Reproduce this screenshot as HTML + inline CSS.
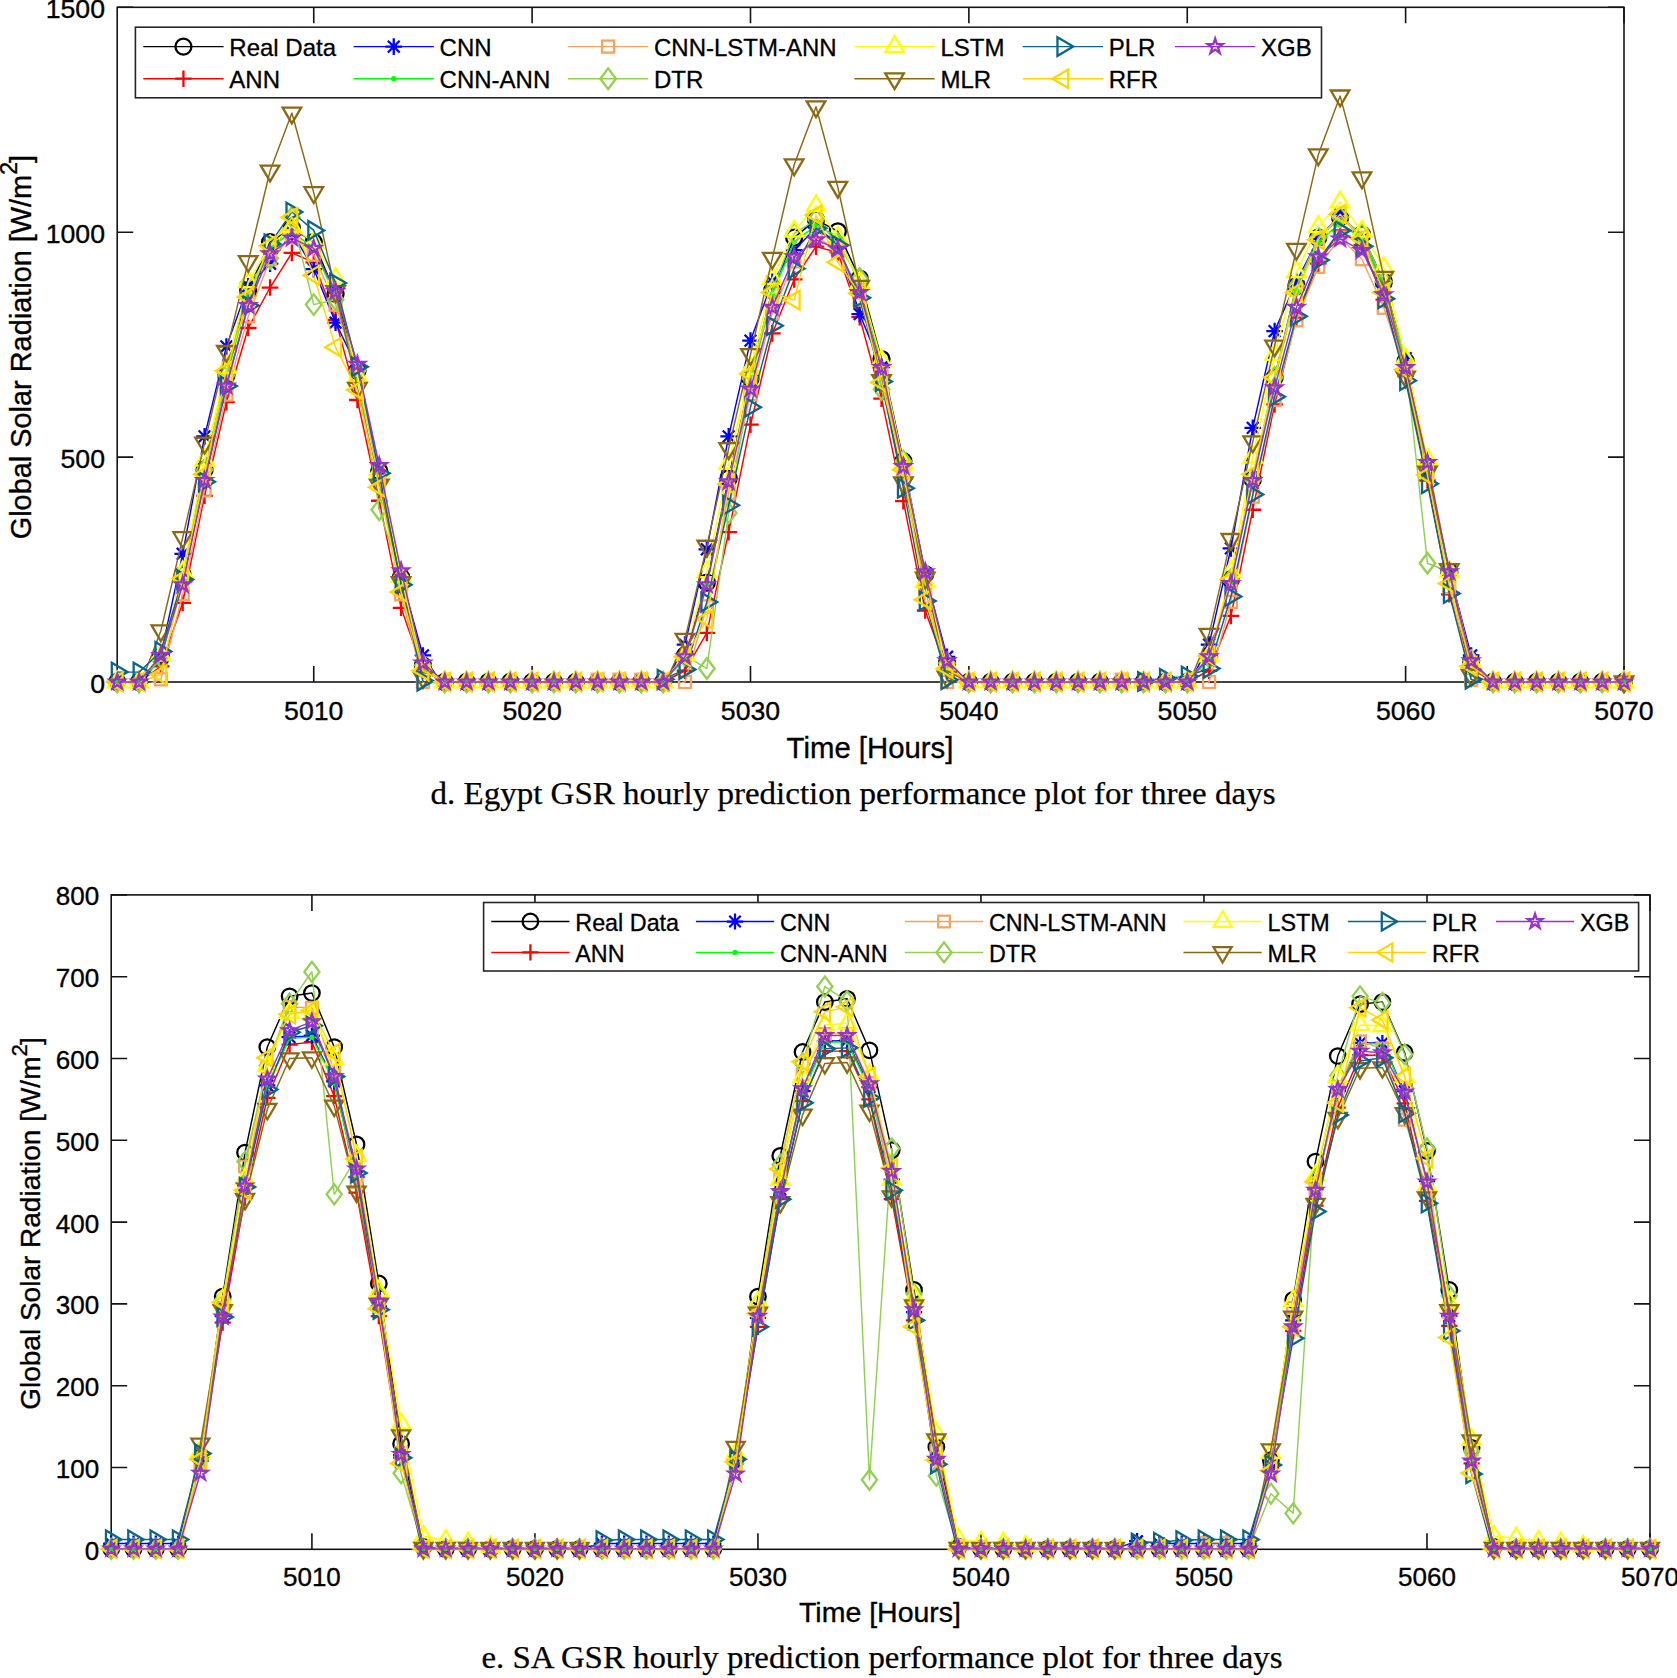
<!DOCTYPE html>
<html lang="en"><head><meta charset="utf-8"><title>GSR hourly prediction performance plots</title>
<style>html,body{margin:0;padding:0;background:#fff}body{width:1677px;height:1678px;overflow:hidden}svg{display:block}</style>
</head><body>
<svg width="1677" height="1678" viewBox="0 0 1677 1678">
<rect width="1677" height="1678" fill="#fff"/>
<defs>
<circle id="ao" r="8" fill="none" stroke-width="2.3"/>
<path id="aplus" d="M-8.3 0H8.3M0 -8.3V8.3" fill="none" stroke-width="2.3"/>
<path id="aast" d="M-8.3 0H8.3M0 -8.3V8.3M-5.9 -5.9L5.9 5.9M-5.9 5.9L5.9 -5.9" fill="none" stroke-width="2.3"/>
<circle id="adot" r="2.7" stroke="none"/>
<rect id="asq" x="-6" y="-6" width="12" height="12" fill="none" stroke-width="2.3"/>
<path id="adia" d="M0 -10.3L7.8 0L0 10.3L-7.8 0Z" fill="none" stroke-width="2.3"/>
<path id="aup" d="M0 -10.4L9.3 5.4L-9.3 5.4Z" fill="none" stroke-width="2.3"/>
<path id="adown" d="M0 10.4L9.3 -5.4L-9.3 -5.4Z" fill="none" stroke-width="2.3"/>
<path id="aright" d="M10.4 0L-5.4 9.3L-5.4 -9.3Z" fill="none" stroke-width="2.3"/>
<path id="aleft" d="M-10.4 0L5.4 9.3L5.4 -9.3Z" fill="none" stroke-width="2.3"/>
<path id="astar" d="M0 -7.9L1.79 -2.47L7.51 -2.44L2.9 0.94L4.64 6.39L0 3.05L-4.64 6.39L-2.9 0.94L-7.51 -2.44L-1.79 -2.47Z" fill="none" stroke-width="2.3"/>
<circle id="bo" r="7.78" fill="none" stroke-width="2.25"/>
<path id="bplus" d="M-8.08 0H8.08M0 -8.08V8.08" fill="none" stroke-width="2.25"/>
<path id="bast" d="M-8.08 0H8.08M0 -8.08V8.08M-5.74 -5.74L5.74 5.74M-5.74 5.74L5.74 -5.74" fill="none" stroke-width="2.25"/>
<circle id="bdot" r="2.63" stroke="none"/>
<rect id="bsq" x="-5.84" y="-5.84" width="11.68" height="11.68" fill="none" stroke-width="2.25"/>
<path id="bdia" d="M0 -10.02L7.59 0L0 10.02L-7.59 0Z" fill="none" stroke-width="2.25"/>
<path id="bup" d="M0 -10.12L9.05 5.25L-9.05 5.25Z" fill="none" stroke-width="2.25"/>
<path id="bdown" d="M0 10.12L9.05 -5.25L-9.05 -5.25Z" fill="none" stroke-width="2.25"/>
<path id="bright" d="M10.12 0L-5.25 9.05L-5.25 -9.05Z" fill="none" stroke-width="2.25"/>
<path id="bleft" d="M-10.12 0L5.25 9.05L5.25 -9.05Z" fill="none" stroke-width="2.25"/>
<path id="bstar" d="M0 -7.69L1.74 -2.4L7.31 -2.38L2.82 0.92L4.52 6.22L0 2.97L-4.52 6.22L-2.82 0.92L-7.31 -2.38L-1.74 -2.4Z" fill="none" stroke-width="2.25"/>
</defs>
<g stroke="#141414" stroke-width="1.6" fill="none">
<rect x="117.2" y="7.3" width="1506.8" height="674.7"/>
<path d="M313.74 682v-16M313.74 7.3v16M532.12 682v-16M532.12 7.3v16M750.49 682v-16M750.49 7.3v16M968.87 682v-16M968.87 7.3v16M1187.25 682v-16M1187.25 7.3v16M1405.62 682v-16M1405.62 7.3v16M1624 682v-16M1624 7.3v16M117.2 682h16M1624 682h-16M117.2 457.1h16M1624 457.1h-16M117.2 232.2h16M1624 232.2h-16M117.2 7.3h16M1624 7.3h-16"/>
</g>
<g font-family='"Liberation Sans", Arial, Helvetica, sans-serif' font-size="26.67" fill="#000" stroke="#000" stroke-width="0.35">
<g text-anchor="middle">
<text x="313.74" y="720.1">5010</text>
<text x="532.12" y="720.1">5020</text>
<text x="750.49" y="720.1">5030</text>
<text x="968.87" y="720.1">5040</text>
<text x="1187.25" y="720.1">5050</text>
<text x="1405.62" y="720.1">5060</text>
<text x="1624" y="720.1">5070</text>
</g>
<g text-anchor="end">
<text x="105" y="692.7">0</text>
<text x="105" y="467.8">500</text>
<text x="105" y="242.9">1000</text>
<text x="105" y="18">1500</text>
</g>
</g>
<text x="870" y="758.2" text-anchor="middle" font-family='"Liberation Sans", Arial, Helvetica, sans-serif' font-size="29.33" fill="#000" stroke="#000" stroke-width="0.35">Time [Hours]</text>
<text transform="translate(30.7 539.3) rotate(-90)" text-anchor="start" font-family='"Liberation Sans", Arial, Helvetica, sans-serif' font-size="28.9" fill="#000" stroke="#000" stroke-width="0.35">Global Solar Radiation [W/m<tspan font-size="23.12" dy="-14">2</tspan><tspan dy="14" dx="-1">]</tspan></text>
<clipPath id="aclip"><rect x="116.2" y="6.3" width="1508.8" height="676.7"/></clipPath>
<g stroke="#000000" fill="#000000">
<polyline clip-path="url(#aclip)" fill="none" stroke-width="1.45" stroke-linejoin="round" points="117.2,682 139.04,682 160.88,657.26 182.71,574.95 204.55,469.69 226.39,375.24 248.23,290.22 270.06,242.1 291.9,228.15 313.74,242.1 335.58,293.82 357.41,370.74 379.25,471.04 401.09,577.2 422.93,665.36 444.77,682 466.6,682 488.44,682 510.28,682 532.12,682 553.95,682 575.79,682 597.63,682 619.47,682 641.3,682 663.14,682 684.98,655.46 706.82,582.59 728.66,478.24 750.49,378.38 772.33,290.22 794.17,237.6 816.01,219.61 837.84,231.3 859.68,278.53 881.52,359.04 903.36,461.15 925.19,574.05 947.03,663.11 968.87,682 990.71,682 1012.54,682 1034.38,682 1056.22,682 1078.06,682 1099.9,682 1121.73,682 1143.57,682 1165.41,682 1187.25,682 1209.08,656.81 1230.92,579.45 1252.76,479.59 1274.6,377.49 1296.43,286.18 1318.27,237.6 1340.11,217.36 1361.95,234.45 1383.79,281.68 1405.62,361.29 1427.46,466.55 1449.3,571.8 1471.14,660.86 1492.97,682 1514.81,682 1536.65,682 1558.49,682 1580.32,682 1602.16,682 1624,682"/>
<use href="#ao" x="117.2" y="682"/><use href="#ao" x="139.04" y="682"/><use href="#ao" x="160.88" y="657.26"/><use href="#ao" x="182.71" y="574.95"/><use href="#ao" x="204.55" y="469.69"/><use href="#ao" x="226.39" y="375.24"/><use href="#ao" x="248.23" y="290.22"/><use href="#ao" x="270.06" y="242.1"/><use href="#ao" x="291.9" y="228.15"/><use href="#ao" x="313.74" y="242.1"/><use href="#ao" x="335.58" y="293.82"/><use href="#ao" x="357.41" y="370.74"/><use href="#ao" x="379.25" y="471.04"/><use href="#ao" x="401.09" y="577.2"/><use href="#ao" x="422.93" y="665.36"/><use href="#ao" x="444.77" y="682"/><use href="#ao" x="466.6" y="682"/><use href="#ao" x="488.44" y="682"/><use href="#ao" x="510.28" y="682"/><use href="#ao" x="532.12" y="682"/><use href="#ao" x="553.95" y="682"/><use href="#ao" x="575.79" y="682"/><use href="#ao" x="597.63" y="682"/><use href="#ao" x="619.47" y="682"/><use href="#ao" x="641.3" y="682"/><use href="#ao" x="663.14" y="682"/><use href="#ao" x="684.98" y="655.46"/><use href="#ao" x="706.82" y="582.59"/><use href="#ao" x="728.66" y="478.24"/><use href="#ao" x="750.49" y="378.38"/><use href="#ao" x="772.33" y="290.22"/><use href="#ao" x="794.17" y="237.6"/><use href="#ao" x="816.01" y="219.61"/><use href="#ao" x="837.84" y="231.3"/><use href="#ao" x="859.68" y="278.53"/><use href="#ao" x="881.52" y="359.04"/><use href="#ao" x="903.36" y="461.15"/><use href="#ao" x="925.19" y="574.05"/><use href="#ao" x="947.03" y="663.11"/><use href="#ao" x="968.87" y="682"/><use href="#ao" x="990.71" y="682"/><use href="#ao" x="1012.54" y="682"/><use href="#ao" x="1034.38" y="682"/><use href="#ao" x="1056.22" y="682"/><use href="#ao" x="1078.06" y="682"/><use href="#ao" x="1099.9" y="682"/><use href="#ao" x="1121.73" y="682"/><use href="#ao" x="1143.57" y="682"/><use href="#ao" x="1165.41" y="682"/><use href="#ao" x="1187.25" y="682"/><use href="#ao" x="1209.08" y="656.81"/><use href="#ao" x="1230.92" y="579.45"/><use href="#ao" x="1252.76" y="479.59"/><use href="#ao" x="1274.6" y="377.49"/><use href="#ao" x="1296.43" y="286.18"/><use href="#ao" x="1318.27" y="237.6"/><use href="#ao" x="1340.11" y="217.36"/><use href="#ao" x="1361.95" y="234.45"/><use href="#ao" x="1383.79" y="281.68"/><use href="#ao" x="1405.62" y="361.29"/><use href="#ao" x="1427.46" y="466.55"/><use href="#ao" x="1449.3" y="571.8"/><use href="#ao" x="1471.14" y="660.86"/><use href="#ao" x="1492.97" y="682"/><use href="#ao" x="1514.81" y="682"/><use href="#ao" x="1536.65" y="682"/><use href="#ao" x="1558.49" y="682"/><use href="#ao" x="1580.32" y="682"/><use href="#ao" x="1602.16" y="682"/><use href="#ao" x="1624" y="682"/>
</g>
<g stroke="#FF0000" fill="#FF0000">
<polyline clip-path="url(#aclip)" fill="none" stroke-width="1.45" stroke-linejoin="round" points="117.2,682 139.04,682 160.88,666.26 182.71,602.84 204.55,495.78 226.39,402.22 248.23,328.01 270.06,287.53 291.9,252.89 313.74,262.34 335.58,319.91 357.41,399.98 379.25,500.73 401.09,607.78 422.93,670.75 444.77,682 466.6,682 488.44,682 510.28,682 532.12,682 553.95,682 575.79,682 597.63,682 619.47,682 641.3,682 663.14,682 684.98,670.75 706.82,632.97 728.66,532.22 750.49,424.71 772.33,333.4 794.17,279.43 816.01,246.59 837.84,252.44 859.68,317.21 881.52,398.63 903.36,501.18 925.19,610.48 947.03,670.75 968.87,682 990.71,682 1012.54,682 1034.38,682 1056.22,682 1078.06,682 1099.9,682 1121.73,682 1143.57,682 1165.41,682 1187.25,682 1209.08,670.75 1230.92,615.88 1252.76,509.73 1274.6,404.47 1296.43,317.66 1318.27,263.69 1340.11,230.4 1361.95,245.24 1383.79,299.67 1405.62,376.14 1427.46,480.49 1449.3,594.29 1471.14,668.51 1492.97,682 1514.81,682 1536.65,682 1558.49,682 1580.32,682 1602.16,682 1624,682"/>
<use href="#aplus" x="117.2" y="682"/><use href="#aplus" x="139.04" y="682"/><use href="#aplus" x="160.88" y="666.26"/><use href="#aplus" x="182.71" y="602.84"/><use href="#aplus" x="204.55" y="495.78"/><use href="#aplus" x="226.39" y="402.22"/><use href="#aplus" x="248.23" y="328.01"/><use href="#aplus" x="270.06" y="287.53"/><use href="#aplus" x="291.9" y="252.89"/><use href="#aplus" x="313.74" y="262.34"/><use href="#aplus" x="335.58" y="319.91"/><use href="#aplus" x="357.41" y="399.98"/><use href="#aplus" x="379.25" y="500.73"/><use href="#aplus" x="401.09" y="607.78"/><use href="#aplus" x="422.93" y="670.75"/><use href="#aplus" x="444.77" y="682"/><use href="#aplus" x="466.6" y="682"/><use href="#aplus" x="488.44" y="682"/><use href="#aplus" x="510.28" y="682"/><use href="#aplus" x="532.12" y="682"/><use href="#aplus" x="553.95" y="682"/><use href="#aplus" x="575.79" y="682"/><use href="#aplus" x="597.63" y="682"/><use href="#aplus" x="619.47" y="682"/><use href="#aplus" x="641.3" y="682"/><use href="#aplus" x="663.14" y="682"/><use href="#aplus" x="684.98" y="670.75"/><use href="#aplus" x="706.82" y="632.97"/><use href="#aplus" x="728.66" y="532.22"/><use href="#aplus" x="750.49" y="424.71"/><use href="#aplus" x="772.33" y="333.4"/><use href="#aplus" x="794.17" y="279.43"/><use href="#aplus" x="816.01" y="246.59"/><use href="#aplus" x="837.84" y="252.44"/><use href="#aplus" x="859.68" y="317.21"/><use href="#aplus" x="881.52" y="398.63"/><use href="#aplus" x="903.36" y="501.18"/><use href="#aplus" x="925.19" y="610.48"/><use href="#aplus" x="947.03" y="670.75"/><use href="#aplus" x="968.87" y="682"/><use href="#aplus" x="990.71" y="682"/><use href="#aplus" x="1012.54" y="682"/><use href="#aplus" x="1034.38" y="682"/><use href="#aplus" x="1056.22" y="682"/><use href="#aplus" x="1078.06" y="682"/><use href="#aplus" x="1099.9" y="682"/><use href="#aplus" x="1121.73" y="682"/><use href="#aplus" x="1143.57" y="682"/><use href="#aplus" x="1165.41" y="682"/><use href="#aplus" x="1187.25" y="682"/><use href="#aplus" x="1209.08" y="670.75"/><use href="#aplus" x="1230.92" y="615.88"/><use href="#aplus" x="1252.76" y="509.73"/><use href="#aplus" x="1274.6" y="404.47"/><use href="#aplus" x="1296.43" y="317.66"/><use href="#aplus" x="1318.27" y="263.69"/><use href="#aplus" x="1340.11" y="230.4"/><use href="#aplus" x="1361.95" y="245.24"/><use href="#aplus" x="1383.79" y="299.67"/><use href="#aplus" x="1405.62" y="376.14"/><use href="#aplus" x="1427.46" y="480.49"/><use href="#aplus" x="1449.3" y="594.29"/><use href="#aplus" x="1471.14" y="668.51"/><use href="#aplus" x="1492.97" y="682"/><use href="#aplus" x="1514.81" y="682"/><use href="#aplus" x="1536.65" y="682"/><use href="#aplus" x="1558.49" y="682"/><use href="#aplus" x="1580.32" y="682"/><use href="#aplus" x="1602.16" y="682"/><use href="#aplus" x="1624" y="682"/>
</g>
<g stroke="#0000FF" fill="#0000FF">
<polyline clip-path="url(#aclip)" fill="none" stroke-width="1.45" stroke-linejoin="round" points="117.2,688 139.04,688 160.88,655.01 182.71,553.81 204.55,436.41 226.39,346.45 248.23,286.18 270.06,263.69 291.9,232.2 313.74,269.08 335.58,322.61 357.41,367.59 379.25,470.59 401.09,576.3 422.93,655.46 444.77,688 466.6,688 488.44,688 510.28,688 532.12,688 553.95,688 575.79,688 597.63,688 619.47,688 641.3,688 663.14,688 684.98,644.67 706.82,549.31 728.66,436.41 750.49,340.6 772.33,281.68 794.17,250.19 816.01,227.7 837.84,243.44 859.68,314.06 881.52,367.14 903.36,463.85 925.19,574.05 947.03,656.81 968.87,688 990.71,688 1012.54,688 1034.38,688 1056.22,688 1078.06,688 1099.9,688 1121.73,688 1143.57,688 1165.41,688 1187.25,688 1209.08,644.67 1230.92,548.41 1252.76,427.86 1274.6,331.16 1296.43,281.68 1318.27,238.95 1340.11,214.21 1361.95,238.95 1383.79,286.18 1405.62,358.14 1427.46,466.1 1449.3,571.8 1471.14,655.46 1492.97,688 1514.81,688 1536.65,688 1558.49,688 1580.32,688 1602.16,688 1624,688"/>
<use href="#aast" x="160.88" y="655.01"/><use href="#aast" x="182.71" y="553.81"/><use href="#aast" x="204.55" y="436.41"/><use href="#aast" x="226.39" y="346.45"/><use href="#aast" x="248.23" y="286.18"/><use href="#aast" x="270.06" y="263.69"/><use href="#aast" x="291.9" y="232.2"/><use href="#aast" x="313.74" y="269.08"/><use href="#aast" x="335.58" y="322.61"/><use href="#aast" x="357.41" y="367.59"/><use href="#aast" x="379.25" y="470.59"/><use href="#aast" x="401.09" y="576.3"/><use href="#aast" x="422.93" y="655.46"/><use href="#aast" x="684.98" y="644.67"/><use href="#aast" x="706.82" y="549.31"/><use href="#aast" x="728.66" y="436.41"/><use href="#aast" x="750.49" y="340.6"/><use href="#aast" x="772.33" y="281.68"/><use href="#aast" x="794.17" y="250.19"/><use href="#aast" x="816.01" y="227.7"/><use href="#aast" x="837.84" y="243.44"/><use href="#aast" x="859.68" y="314.06"/><use href="#aast" x="881.52" y="367.14"/><use href="#aast" x="903.36" y="463.85"/><use href="#aast" x="925.19" y="574.05"/><use href="#aast" x="947.03" y="656.81"/><use href="#aast" x="1209.08" y="644.67"/><use href="#aast" x="1230.92" y="548.41"/><use href="#aast" x="1252.76" y="427.86"/><use href="#aast" x="1274.6" y="331.16"/><use href="#aast" x="1296.43" y="281.68"/><use href="#aast" x="1318.27" y="238.95"/><use href="#aast" x="1340.11" y="214.21"/><use href="#aast" x="1361.95" y="238.95"/><use href="#aast" x="1383.79" y="286.18"/><use href="#aast" x="1405.62" y="358.14"/><use href="#aast" x="1427.46" y="466.1"/><use href="#aast" x="1449.3" y="571.8"/><use href="#aast" x="1471.14" y="655.46"/>
</g>
<g stroke="#00FF00" fill="#00FF00">
<polyline clip-path="url(#aclip)" fill="none" stroke-width="1.45" stroke-linejoin="round" points="117.2,682 139.04,682 160.88,659.51 182.71,578.55 204.55,472.84 226.39,378.38 248.23,295.17 270.06,247.94 291.9,232.2 313.74,247.94 335.58,297.42 357.41,373.89 379.25,474.19 401.09,579.45 422.93,667.16 444.77,682 466.6,682 488.44,682 510.28,682 532.12,682 553.95,682 575.79,682 597.63,682 619.47,682 641.3,682 663.14,682 684.98,658.61 706.82,585.29 728.66,480.94 750.49,381.53 772.33,294.27 794.17,242.1 816.01,225.45 837.84,236.7 859.68,283.93 881.52,363.54 903.36,464.3 925.19,576.3 947.03,664.91 968.87,682 990.71,682 1012.54,682 1034.38,682 1056.22,682 1078.06,682 1099.9,682 1121.73,682 1143.57,682 1165.41,682 1187.25,682 1209.08,659.51 1230.92,582.14 1252.76,482.29 1274.6,380.63 1296.43,290.67 1318.27,242.1 1340.11,223.2 1361.95,238.95 1383.79,286.18 1405.62,364.89 1427.46,469.24 1449.3,574.05 1471.14,663.11 1492.97,682 1514.81,682 1536.65,682 1558.49,682 1580.32,682 1602.16,682 1624,682"/>
<use href="#adot" x="117.2" y="682"/><use href="#adot" x="139.04" y="682"/><use href="#adot" x="160.88" y="659.51"/><use href="#adot" x="182.71" y="578.55"/><use href="#adot" x="204.55" y="472.84"/><use href="#adot" x="226.39" y="378.38"/><use href="#adot" x="248.23" y="295.17"/><use href="#adot" x="270.06" y="247.94"/><use href="#adot" x="291.9" y="232.2"/><use href="#adot" x="313.74" y="247.94"/><use href="#adot" x="335.58" y="297.42"/><use href="#adot" x="357.41" y="373.89"/><use href="#adot" x="379.25" y="474.19"/><use href="#adot" x="401.09" y="579.45"/><use href="#adot" x="422.93" y="667.16"/><use href="#adot" x="444.77" y="682"/><use href="#adot" x="466.6" y="682"/><use href="#adot" x="488.44" y="682"/><use href="#adot" x="510.28" y="682"/><use href="#adot" x="532.12" y="682"/><use href="#adot" x="553.95" y="682"/><use href="#adot" x="575.79" y="682"/><use href="#adot" x="597.63" y="682"/><use href="#adot" x="619.47" y="682"/><use href="#adot" x="641.3" y="682"/><use href="#adot" x="663.14" y="682"/><use href="#adot" x="684.98" y="658.61"/><use href="#adot" x="706.82" y="585.29"/><use href="#adot" x="728.66" y="480.94"/><use href="#adot" x="750.49" y="381.53"/><use href="#adot" x="772.33" y="294.27"/><use href="#adot" x="794.17" y="242.1"/><use href="#adot" x="816.01" y="225.45"/><use href="#adot" x="837.84" y="236.7"/><use href="#adot" x="859.68" y="283.93"/><use href="#adot" x="881.52" y="363.54"/><use href="#adot" x="903.36" y="464.3"/><use href="#adot" x="925.19" y="576.3"/><use href="#adot" x="947.03" y="664.91"/><use href="#adot" x="968.87" y="682"/><use href="#adot" x="990.71" y="682"/><use href="#adot" x="1012.54" y="682"/><use href="#adot" x="1034.38" y="682"/><use href="#adot" x="1056.22" y="682"/><use href="#adot" x="1078.06" y="682"/><use href="#adot" x="1099.9" y="682"/><use href="#adot" x="1121.73" y="682"/><use href="#adot" x="1143.57" y="682"/><use href="#adot" x="1165.41" y="682"/><use href="#adot" x="1187.25" y="682"/><use href="#adot" x="1209.08" y="659.51"/><use href="#adot" x="1230.92" y="582.14"/><use href="#adot" x="1252.76" y="482.29"/><use href="#adot" x="1274.6" y="380.63"/><use href="#adot" x="1296.43" y="290.67"/><use href="#adot" x="1318.27" y="242.1"/><use href="#adot" x="1340.11" y="223.2"/><use href="#adot" x="1361.95" y="238.95"/><use href="#adot" x="1383.79" y="286.18"/><use href="#adot" x="1405.62" y="364.89"/><use href="#adot" x="1427.46" y="469.24"/><use href="#adot" x="1449.3" y="574.05"/><use href="#adot" x="1471.14" y="663.11"/><use href="#adot" x="1492.97" y="682"/><use href="#adot" x="1514.81" y="682"/><use href="#adot" x="1536.65" y="682"/><use href="#adot" x="1558.49" y="682"/><use href="#adot" x="1580.32" y="682"/><use href="#adot" x="1602.16" y="682"/><use href="#adot" x="1624" y="682"/>
</g>
<g stroke="#F4A460" fill="#F4A460">
<polyline clip-path="url(#aclip)" fill="none" stroke-width="1.45" stroke-linejoin="round" points="117.2,688 139.04,688 160.88,679.3 182.71,594.29 204.55,490.39 226.39,394.58 248.23,316.31 270.06,259.19 291.9,236.7 313.74,254.69 335.58,304.62 357.41,376.14 379.25,477.34 401.09,594.29 422.93,682 444.77,688 466.6,688 488.44,688 510.28,688 532.12,688 553.95,688 575.79,688 597.63,679.75 619.47,679.75 641.3,679.75 663.14,688 684.98,682 706.82,606.43 728.66,493.08 750.49,394.13 772.33,313.16 794.17,261.44 816.01,236.7 837.84,250.19 859.68,299.67 881.52,371.64 903.36,470.59 925.19,588.89 947.03,682 968.87,688 990.71,688 1012.54,688 1034.38,688 1056.22,688 1078.06,688 1099.9,688 1121.73,679.75 1143.57,688 1165.41,688 1187.25,688 1209.08,682 1230.92,601.94 1252.76,496.68 1274.6,399.98 1296.43,320.36 1318.27,266.83 1340.11,237.6 1361.95,259.19 1383.79,307.77 1405.62,371.64 1427.46,472.84 1449.3,587.09 1471.14,679.75 1492.97,688 1514.81,688 1536.65,688 1558.49,688 1580.32,688 1602.16,688 1624,688"/>
<use href="#asq" x="160.88" y="679.3"/><use href="#asq" x="182.71" y="594.29"/><use href="#asq" x="204.55" y="490.39"/><use href="#asq" x="226.39" y="394.58"/><use href="#asq" x="248.23" y="316.31"/><use href="#asq" x="270.06" y="259.19"/><use href="#asq" x="291.9" y="236.7"/><use href="#asq" x="313.74" y="254.69"/><use href="#asq" x="335.58" y="304.62"/><use href="#asq" x="357.41" y="376.14"/><use href="#asq" x="379.25" y="477.34"/><use href="#asq" x="401.09" y="594.29"/><use href="#asq" x="422.93" y="682"/><use href="#asq" x="597.63" y="679.75"/><use href="#asq" x="619.47" y="679.75"/><use href="#asq" x="641.3" y="679.75"/><use href="#asq" x="684.98" y="682"/><use href="#asq" x="706.82" y="606.43"/><use href="#asq" x="728.66" y="493.08"/><use href="#asq" x="750.49" y="394.13"/><use href="#asq" x="772.33" y="313.16"/><use href="#asq" x="794.17" y="261.44"/><use href="#asq" x="816.01" y="236.7"/><use href="#asq" x="837.84" y="250.19"/><use href="#asq" x="859.68" y="299.67"/><use href="#asq" x="881.52" y="371.64"/><use href="#asq" x="903.36" y="470.59"/><use href="#asq" x="925.19" y="588.89"/><use href="#asq" x="947.03" y="682"/><use href="#asq" x="1121.73" y="679.75"/><use href="#asq" x="1209.08" y="682"/><use href="#asq" x="1230.92" y="601.94"/><use href="#asq" x="1252.76" y="496.68"/><use href="#asq" x="1274.6" y="399.98"/><use href="#asq" x="1296.43" y="320.36"/><use href="#asq" x="1318.27" y="266.83"/><use href="#asq" x="1340.11" y="237.6"/><use href="#asq" x="1361.95" y="259.19"/><use href="#asq" x="1383.79" y="307.77"/><use href="#asq" x="1405.62" y="371.64"/><use href="#asq" x="1427.46" y="472.84"/><use href="#asq" x="1449.3" y="587.09"/><use href="#asq" x="1471.14" y="679.75"/>
</g>
<g stroke="#92D050" fill="#92D050">
<polyline clip-path="url(#aclip)" fill="none" stroke-width="1.45" stroke-linejoin="round" points="117.2,682 139.04,682 160.88,657.26 182.71,574.95 204.55,469.69 226.39,375.24 248.23,283.03 270.06,258.29 291.9,217.36 313.74,304.62 335.58,299.67 357.41,370.74 379.25,509.73 401.09,577.2 422.93,665.36 444.77,682 466.6,682 488.44,682 510.28,682 532.12,682 553.95,682 575.79,682 597.63,682 619.47,682 641.3,682 663.14,682 684.98,655.46 706.82,668.51 728.66,512.88 750.49,378.38 772.33,290.22 794.17,233.55 816.01,219.61 837.84,243.44 859.68,278.53 881.52,389.18 903.36,461.15 925.19,574.05 947.03,663.11 968.87,682 990.71,682 1012.54,682 1034.38,682 1056.22,682 1078.06,682 1099.9,682 1121.73,682 1143.57,682 1165.41,682 1187.25,682 1209.08,656.81 1230.92,579.45 1252.76,479.59 1274.6,377.49 1296.43,286.18 1318.27,237.6 1340.11,217.36 1361.95,234.45 1383.79,281.68 1405.62,361.29 1427.46,563.25 1449.3,571.8 1471.14,660.86 1492.97,682 1514.81,682 1536.65,682 1558.49,682 1580.32,682 1602.16,682 1624,682"/>
<use href="#adia" x="117.2" y="682"/><use href="#adia" x="139.04" y="682"/><use href="#adia" x="160.88" y="657.26"/><use href="#adia" x="182.71" y="574.95"/><use href="#adia" x="204.55" y="469.69"/><use href="#adia" x="226.39" y="375.24"/><use href="#adia" x="248.23" y="283.03"/><use href="#adia" x="270.06" y="258.29"/><use href="#adia" x="291.9" y="217.36"/><use href="#adia" x="313.74" y="304.62"/><use href="#adia" x="335.58" y="299.67"/><use href="#adia" x="357.41" y="370.74"/><use href="#adia" x="379.25" y="509.73"/><use href="#adia" x="401.09" y="577.2"/><use href="#adia" x="422.93" y="665.36"/><use href="#adia" x="444.77" y="682"/><use href="#adia" x="466.6" y="682"/><use href="#adia" x="488.44" y="682"/><use href="#adia" x="510.28" y="682"/><use href="#adia" x="532.12" y="682"/><use href="#adia" x="553.95" y="682"/><use href="#adia" x="575.79" y="682"/><use href="#adia" x="597.63" y="682"/><use href="#adia" x="619.47" y="682"/><use href="#adia" x="641.3" y="682"/><use href="#adia" x="663.14" y="682"/><use href="#adia" x="684.98" y="655.46"/><use href="#adia" x="706.82" y="668.51"/><use href="#adia" x="728.66" y="512.88"/><use href="#adia" x="750.49" y="378.38"/><use href="#adia" x="772.33" y="290.22"/><use href="#adia" x="794.17" y="233.55"/><use href="#adia" x="816.01" y="219.61"/><use href="#adia" x="837.84" y="243.44"/><use href="#adia" x="859.68" y="278.53"/><use href="#adia" x="881.52" y="389.18"/><use href="#adia" x="903.36" y="461.15"/><use href="#adia" x="925.19" y="574.05"/><use href="#adia" x="947.03" y="663.11"/><use href="#adia" x="968.87" y="682"/><use href="#adia" x="990.71" y="682"/><use href="#adia" x="1012.54" y="682"/><use href="#adia" x="1034.38" y="682"/><use href="#adia" x="1056.22" y="682"/><use href="#adia" x="1078.06" y="682"/><use href="#adia" x="1099.9" y="682"/><use href="#adia" x="1121.73" y="682"/><use href="#adia" x="1143.57" y="682"/><use href="#adia" x="1165.41" y="682"/><use href="#adia" x="1187.25" y="682"/><use href="#adia" x="1209.08" y="656.81"/><use href="#adia" x="1230.92" y="579.45"/><use href="#adia" x="1252.76" y="479.59"/><use href="#adia" x="1274.6" y="377.49"/><use href="#adia" x="1296.43" y="286.18"/><use href="#adia" x="1318.27" y="237.6"/><use href="#adia" x="1340.11" y="217.36"/><use href="#adia" x="1361.95" y="234.45"/><use href="#adia" x="1383.79" y="281.68"/><use href="#adia" x="1405.62" y="361.29"/><use href="#adia" x="1427.46" y="563.25"/><use href="#adia" x="1449.3" y="571.8"/><use href="#adia" x="1471.14" y="660.86"/><use href="#adia" x="1492.97" y="682"/><use href="#adia" x="1514.81" y="682"/><use href="#adia" x="1536.65" y="682"/><use href="#adia" x="1558.49" y="682"/><use href="#adia" x="1580.32" y="682"/><use href="#adia" x="1602.16" y="682"/><use href="#adia" x="1624" y="682"/>
</g>
<g stroke="#FFFF00" fill="#FFFF00">
<polyline clip-path="url(#aclip)" fill="none" stroke-width="1.45" stroke-linejoin="round" points="117.2,682 139.04,682 160.88,655.01 182.71,571.8 204.55,460.25 226.39,367.14 248.23,281.68 270.06,246.14 291.9,226.8 313.74,242.1 335.58,278.53 357.41,376.14 379.25,470.14 401.09,576.3 422.93,666.26 444.77,682 466.6,682 488.44,682 510.28,682 532.12,682 553.95,682 575.79,682 597.63,682 619.47,682 641.3,682 663.14,682 684.98,655.01 706.82,571.8 728.66,463.4 750.49,368.49 772.33,278.53 794.17,231.3 816.01,205.66 837.84,237.6 859.68,282.58 881.52,360.39 903.36,463.85 925.19,581.69 947.03,664.01 968.87,682 990.71,682 1012.54,682 1034.38,682 1056.22,682 1078.06,682 1099.9,682 1121.73,682 1143.57,682 1165.41,682 1187.25,682 1209.08,655.91 1230.92,571.8 1252.76,457.1 1274.6,354.55 1296.43,271.78 1318.27,226.8 1340.11,202.06 1361.95,231.3 1383.79,267.73 1405.62,359.04 1427.46,459.35 1449.3,571.8 1471.14,661.76 1492.97,682 1514.81,682 1536.65,682 1558.49,682 1580.32,682 1602.16,682 1624,682"/>
<use href="#aup" x="117.2" y="682"/><use href="#aup" x="139.04" y="682"/><use href="#aup" x="160.88" y="655.01"/><use href="#aup" x="182.71" y="571.8"/><use href="#aup" x="204.55" y="460.25"/><use href="#aup" x="226.39" y="367.14"/><use href="#aup" x="248.23" y="281.68"/><use href="#aup" x="270.06" y="246.14"/><use href="#aup" x="291.9" y="226.8"/><use href="#aup" x="313.74" y="242.1"/><use href="#aup" x="335.58" y="278.53"/><use href="#aup" x="357.41" y="376.14"/><use href="#aup" x="379.25" y="470.14"/><use href="#aup" x="401.09" y="576.3"/><use href="#aup" x="422.93" y="666.26"/><use href="#aup" x="444.77" y="682"/><use href="#aup" x="466.6" y="682"/><use href="#aup" x="488.44" y="682"/><use href="#aup" x="510.28" y="682"/><use href="#aup" x="532.12" y="682"/><use href="#aup" x="553.95" y="682"/><use href="#aup" x="575.79" y="682"/><use href="#aup" x="597.63" y="682"/><use href="#aup" x="619.47" y="682"/><use href="#aup" x="641.3" y="682"/><use href="#aup" x="663.14" y="682"/><use href="#aup" x="684.98" y="655.01"/><use href="#aup" x="706.82" y="571.8"/><use href="#aup" x="728.66" y="463.4"/><use href="#aup" x="750.49" y="368.49"/><use href="#aup" x="772.33" y="278.53"/><use href="#aup" x="794.17" y="231.3"/><use href="#aup" x="816.01" y="205.66"/><use href="#aup" x="837.84" y="237.6"/><use href="#aup" x="859.68" y="282.58"/><use href="#aup" x="881.52" y="360.39"/><use href="#aup" x="903.36" y="463.85"/><use href="#aup" x="925.19" y="581.69"/><use href="#aup" x="947.03" y="664.01"/><use href="#aup" x="968.87" y="682"/><use href="#aup" x="990.71" y="682"/><use href="#aup" x="1012.54" y="682"/><use href="#aup" x="1034.38" y="682"/><use href="#aup" x="1056.22" y="682"/><use href="#aup" x="1078.06" y="682"/><use href="#aup" x="1099.9" y="682"/><use href="#aup" x="1121.73" y="682"/><use href="#aup" x="1143.57" y="682"/><use href="#aup" x="1165.41" y="682"/><use href="#aup" x="1187.25" y="682"/><use href="#aup" x="1209.08" y="655.91"/><use href="#aup" x="1230.92" y="571.8"/><use href="#aup" x="1252.76" y="457.1"/><use href="#aup" x="1274.6" y="354.55"/><use href="#aup" x="1296.43" y="271.78"/><use href="#aup" x="1318.27" y="226.8"/><use href="#aup" x="1340.11" y="202.06"/><use href="#aup" x="1361.95" y="231.3"/><use href="#aup" x="1383.79" y="267.73"/><use href="#aup" x="1405.62" y="359.04"/><use href="#aup" x="1427.46" y="459.35"/><use href="#aup" x="1449.3" y="571.8"/><use href="#aup" x="1471.14" y="661.76"/><use href="#aup" x="1492.97" y="682"/><use href="#aup" x="1514.81" y="682"/><use href="#aup" x="1536.65" y="682"/><use href="#aup" x="1558.49" y="682"/><use href="#aup" x="1580.32" y="682"/><use href="#aup" x="1602.16" y="682"/><use href="#aup" x="1624" y="682"/>
</g>
<g stroke="#8B6914" fill="#8B6914">
<polyline clip-path="url(#aclip)" fill="none" stroke-width="1.45" stroke-linejoin="round" points="117.2,688 139.04,688 160.88,630.72 182.71,537.61 204.55,443.16 226.39,351.4 248.23,261.44 270.06,171.03 291.9,113 313.74,192.62 335.58,291.57 357.41,388.28 379.25,484.99 401.09,582.59 422.93,677.5 444.77,688 466.6,688 488.44,688 510.28,688 532.12,688 553.95,688 575.79,688 597.63,688 619.47,688 641.3,688 663.14,688 684.98,639.27 706.82,546.16 728.66,448.55 750.49,354.55 772.33,258.29 794.17,164.73 816.01,106.71 837.84,187.22 859.68,286.18 881.52,380.63 903.36,482.74 925.19,578.1 947.03,677.05 968.87,688 990.71,688 1012.54,688 1034.38,688 1056.22,688 1078.06,688 1099.9,688 1121.73,688 1143.57,688 1165.41,688 1187.25,688 1209.08,634.32 1230.92,539.41 1252.76,441.81 1274.6,346 1296.43,249.29 1318.27,154.83 1340.11,95.91 1361.95,177.77 1383.79,277.18 1405.62,377.04 1427.46,471.94 1449.3,569.55 1471.14,675.25 1492.97,688 1514.81,688 1536.65,688 1558.49,688 1580.32,688 1602.16,688 1624,681.78"/>
<use href="#adown" x="160.88" y="630.72"/><use href="#adown" x="182.71" y="537.61"/><use href="#adown" x="204.55" y="443.16"/><use href="#adown" x="226.39" y="351.4"/><use href="#adown" x="248.23" y="261.44"/><use href="#adown" x="270.06" y="171.03"/><use href="#adown" x="291.9" y="113"/><use href="#adown" x="313.74" y="192.62"/><use href="#adown" x="335.58" y="291.57"/><use href="#adown" x="357.41" y="388.28"/><use href="#adown" x="379.25" y="484.99"/><use href="#adown" x="401.09" y="582.59"/><use href="#adown" x="422.93" y="677.5"/><use href="#adown" x="684.98" y="639.27"/><use href="#adown" x="706.82" y="546.16"/><use href="#adown" x="728.66" y="448.55"/><use href="#adown" x="750.49" y="354.55"/><use href="#adown" x="772.33" y="258.29"/><use href="#adown" x="794.17" y="164.73"/><use href="#adown" x="816.01" y="106.71"/><use href="#adown" x="837.84" y="187.22"/><use href="#adown" x="859.68" y="286.18"/><use href="#adown" x="881.52" y="380.63"/><use href="#adown" x="903.36" y="482.74"/><use href="#adown" x="925.19" y="578.1"/><use href="#adown" x="947.03" y="677.05"/><use href="#adown" x="1209.08" y="634.32"/><use href="#adown" x="1230.92" y="539.41"/><use href="#adown" x="1252.76" y="441.81"/><use href="#adown" x="1274.6" y="346"/><use href="#adown" x="1296.43" y="249.29"/><use href="#adown" x="1318.27" y="154.83"/><use href="#adown" x="1340.11" y="95.91"/><use href="#adown" x="1361.95" y="177.77"/><use href="#adown" x="1383.79" y="277.18"/><use href="#adown" x="1405.62" y="377.04"/><use href="#adown" x="1427.46" y="471.94"/><use href="#adown" x="1449.3" y="569.55"/><use href="#adown" x="1471.14" y="675.25"/><use href="#adown" x="1624" y="681.78"/>
</g>
<g stroke="#0B6589" fill="#0B6589">
<polyline clip-path="url(#aclip)" fill="none" stroke-width="1.45" stroke-linejoin="round" points="117.2,672.1 139.04,672.1 160.88,651.41 182.71,579.45 204.55,481.84 226.39,386.03 248.23,305.52 270.06,243.89 291.9,211.96 313.74,230.4 335.58,283.03 357.41,366.69 379.25,473.29 401.09,584.84 422.93,681.1 444.77,688 466.6,688 488.44,688 510.28,688 532.12,688 553.95,688 575.79,688 597.63,688 619.47,688 641.3,688 663.14,679.3 684.98,669.41 706.82,601.94 728.66,505.23 750.49,407.17 772.33,325.76 794.17,268.63 816.01,228.15 837.84,245.24 859.68,297.87 881.52,381.53 903.36,488.14 925.19,601.04 947.03,679.75 968.87,688 990.71,688 1012.54,688 1034.38,688 1056.22,688 1078.06,688 1099.9,688 1121.73,688 1143.57,681.55 1165.41,678.4 1187.25,676.15 1209.08,668.51 1230.92,596.54 1252.76,494.43 1274.6,396.83 1296.43,316.31 1318.27,260.09 1340.11,230.4 1361.95,246.14 1383.79,298.77 1405.62,380.63 1427.46,483.64 1449.3,593.39 1471.14,679.3 1492.97,688 1514.81,688 1536.65,688 1558.49,688 1580.32,688 1602.16,688 1624,688"/>
<use href="#aright" x="117.2" y="672.1"/><use href="#aright" x="139.04" y="672.1"/><use href="#aright" x="160.88" y="651.41"/><use href="#aright" x="182.71" y="579.45"/><use href="#aright" x="204.55" y="481.84"/><use href="#aright" x="226.39" y="386.03"/><use href="#aright" x="248.23" y="305.52"/><use href="#aright" x="270.06" y="243.89"/><use href="#aright" x="291.9" y="211.96"/><use href="#aright" x="313.74" y="230.4"/><use href="#aright" x="335.58" y="283.03"/><use href="#aright" x="357.41" y="366.69"/><use href="#aright" x="379.25" y="473.29"/><use href="#aright" x="401.09" y="584.84"/><use href="#aright" x="422.93" y="681.1"/><use href="#aright" x="663.14" y="679.3"/><use href="#aright" x="684.98" y="669.41"/><use href="#aright" x="706.82" y="601.94"/><use href="#aright" x="728.66" y="505.23"/><use href="#aright" x="750.49" y="407.17"/><use href="#aright" x="772.33" y="325.76"/><use href="#aright" x="794.17" y="268.63"/><use href="#aright" x="816.01" y="228.15"/><use href="#aright" x="837.84" y="245.24"/><use href="#aright" x="859.68" y="297.87"/><use href="#aright" x="881.52" y="381.53"/><use href="#aright" x="903.36" y="488.14"/><use href="#aright" x="925.19" y="601.04"/><use href="#aright" x="947.03" y="679.75"/><use href="#aright" x="1143.57" y="681.55"/><use href="#aright" x="1165.41" y="678.4"/><use href="#aright" x="1187.25" y="676.15"/><use href="#aright" x="1209.08" y="668.51"/><use href="#aright" x="1230.92" y="596.54"/><use href="#aright" x="1252.76" y="494.43"/><use href="#aright" x="1274.6" y="396.83"/><use href="#aright" x="1296.43" y="316.31"/><use href="#aright" x="1318.27" y="260.09"/><use href="#aright" x="1340.11" y="230.4"/><use href="#aright" x="1361.95" y="246.14"/><use href="#aright" x="1383.79" y="298.77"/><use href="#aright" x="1405.62" y="380.63"/><use href="#aright" x="1427.46" y="483.64"/><use href="#aright" x="1449.3" y="593.39"/><use href="#aright" x="1471.14" y="679.3"/>
</g>
<g stroke="#FFD700" fill="#FFD700">
<polyline clip-path="url(#aclip)" fill="none" stroke-width="1.45" stroke-linejoin="round" points="117.2,682 139.04,682 160.88,674.8 182.71,578.55 204.55,474.19 226.39,370.74 248.23,296.97 270.06,245.69 291.9,217.36 313.74,275.38 335.58,347.35 357.41,390.08 379.25,487.24 401.09,592.04 422.93,670.75 444.77,682 466.6,682 488.44,682 510.28,682 532.12,682 553.95,682 575.79,682 597.63,682 619.47,682 641.3,682 663.14,682 684.98,656.81 706.82,619.03 728.66,484.09 750.49,373.89 772.33,292.47 794.17,300.12 816.01,215.11 837.84,262.34 859.68,293.37 881.52,382.43 903.36,469.69 925.19,599.69 947.03,668.51 968.87,682 990.71,682 1012.54,682 1034.38,682 1056.22,682 1078.06,682 1099.9,682 1121.73,682 1143.57,682 1165.41,682 1187.25,682 1209.08,655.91 1230.92,579.45 1252.76,474.19 1274.6,377.49 1296.43,292.47 1318.27,239.85 1340.11,214.21 1361.95,238.95 1383.79,292.47 1405.62,369.84 1427.46,475.09 1449.3,583.49 1471.14,666.26 1492.97,682 1514.81,682 1536.65,682 1558.49,682 1580.32,682 1602.16,682 1624,682"/>
<use href="#aleft" x="117.2" y="682"/><use href="#aleft" x="139.04" y="682"/><use href="#aleft" x="160.88" y="674.8"/><use href="#aleft" x="182.71" y="578.55"/><use href="#aleft" x="204.55" y="474.19"/><use href="#aleft" x="226.39" y="370.74"/><use href="#aleft" x="248.23" y="296.97"/><use href="#aleft" x="270.06" y="245.69"/><use href="#aleft" x="291.9" y="217.36"/><use href="#aleft" x="313.74" y="275.38"/><use href="#aleft" x="335.58" y="347.35"/><use href="#aleft" x="357.41" y="390.08"/><use href="#aleft" x="379.25" y="487.24"/><use href="#aleft" x="401.09" y="592.04"/><use href="#aleft" x="422.93" y="670.75"/><use href="#aleft" x="444.77" y="682"/><use href="#aleft" x="466.6" y="682"/><use href="#aleft" x="488.44" y="682"/><use href="#aleft" x="510.28" y="682"/><use href="#aleft" x="532.12" y="682"/><use href="#aleft" x="553.95" y="682"/><use href="#aleft" x="575.79" y="682"/><use href="#aleft" x="597.63" y="682"/><use href="#aleft" x="619.47" y="682"/><use href="#aleft" x="641.3" y="682"/><use href="#aleft" x="663.14" y="682"/><use href="#aleft" x="684.98" y="656.81"/><use href="#aleft" x="706.82" y="619.03"/><use href="#aleft" x="728.66" y="484.09"/><use href="#aleft" x="750.49" y="373.89"/><use href="#aleft" x="772.33" y="292.47"/><use href="#aleft" x="794.17" y="300.12"/><use href="#aleft" x="816.01" y="215.11"/><use href="#aleft" x="837.84" y="262.34"/><use href="#aleft" x="859.68" y="293.37"/><use href="#aleft" x="881.52" y="382.43"/><use href="#aleft" x="903.36" y="469.69"/><use href="#aleft" x="925.19" y="599.69"/><use href="#aleft" x="947.03" y="668.51"/><use href="#aleft" x="968.87" y="682"/><use href="#aleft" x="990.71" y="682"/><use href="#aleft" x="1012.54" y="682"/><use href="#aleft" x="1034.38" y="682"/><use href="#aleft" x="1056.22" y="682"/><use href="#aleft" x="1078.06" y="682"/><use href="#aleft" x="1099.9" y="682"/><use href="#aleft" x="1121.73" y="682"/><use href="#aleft" x="1143.57" y="682"/><use href="#aleft" x="1165.41" y="682"/><use href="#aleft" x="1187.25" y="682"/><use href="#aleft" x="1209.08" y="655.91"/><use href="#aleft" x="1230.92" y="579.45"/><use href="#aleft" x="1252.76" y="474.19"/><use href="#aleft" x="1274.6" y="377.49"/><use href="#aleft" x="1296.43" y="292.47"/><use href="#aleft" x="1318.27" y="239.85"/><use href="#aleft" x="1340.11" y="214.21"/><use href="#aleft" x="1361.95" y="238.95"/><use href="#aleft" x="1383.79" y="292.47"/><use href="#aleft" x="1405.62" y="369.84"/><use href="#aleft" x="1427.46" y="475.09"/><use href="#aleft" x="1449.3" y="583.49"/><use href="#aleft" x="1471.14" y="666.26"/><use href="#aleft" x="1492.97" y="682"/><use href="#aleft" x="1514.81" y="682"/><use href="#aleft" x="1536.65" y="682"/><use href="#aleft" x="1558.49" y="682"/><use href="#aleft" x="1580.32" y="682"/><use href="#aleft" x="1602.16" y="682"/><use href="#aleft" x="1624" y="682"/>
</g>
<g stroke="#9932CC" fill="#9932CC">
<polyline clip-path="url(#aclip)" fill="none" stroke-width="1.45" stroke-linejoin="round" points="117.2,682 139.04,682 160.88,655.46 182.71,584.84 204.55,480.49 226.39,386.03 248.23,305.52 270.06,253.79 291.9,238.05 313.74,248.39 335.58,291.57 357.41,364.44 379.25,465.65 401.09,570.9 422.93,663.11 444.77,682 466.6,682 488.44,682 510.28,682 532.12,682 553.95,682 575.79,682 597.63,682 619.47,682 641.3,682 663.14,682 684.98,656.81 706.82,584.84 728.66,481.84 750.49,389.18 772.33,307.32 794.17,256.94 816.01,239.85 837.84,249.29 859.68,292.47 881.52,367.59 903.36,466.55 925.19,571.8 947.03,660.86 968.87,682 990.71,682 1012.54,682 1034.38,682 1056.22,682 1078.06,682 1099.9,682 1121.73,682 1143.57,682 1165.41,682 1187.25,682 1209.08,656.81 1230.92,583.49 1252.76,480.49 1274.6,387.83 1296.43,307.32 1318.27,256.94 1340.11,238.95 1361.95,250.64 1383.79,294.72 1405.62,367.59 1427.46,462.5 1449.3,571.8 1471.14,660.86 1492.97,682 1514.81,682 1536.65,682 1558.49,682 1580.32,682 1602.16,682 1624,682"/>
<use href="#astar" x="117.2" y="682"/><use href="#astar" x="139.04" y="682"/><use href="#astar" x="160.88" y="655.46"/><use href="#astar" x="182.71" y="584.84"/><use href="#astar" x="204.55" y="480.49"/><use href="#astar" x="226.39" y="386.03"/><use href="#astar" x="248.23" y="305.52"/><use href="#astar" x="270.06" y="253.79"/><use href="#astar" x="291.9" y="238.05"/><use href="#astar" x="313.74" y="248.39"/><use href="#astar" x="335.58" y="291.57"/><use href="#astar" x="357.41" y="364.44"/><use href="#astar" x="379.25" y="465.65"/><use href="#astar" x="401.09" y="570.9"/><use href="#astar" x="422.93" y="663.11"/><use href="#astar" x="444.77" y="682"/><use href="#astar" x="466.6" y="682"/><use href="#astar" x="488.44" y="682"/><use href="#astar" x="510.28" y="682"/><use href="#astar" x="532.12" y="682"/><use href="#astar" x="553.95" y="682"/><use href="#astar" x="575.79" y="682"/><use href="#astar" x="597.63" y="682"/><use href="#astar" x="619.47" y="682"/><use href="#astar" x="641.3" y="682"/><use href="#astar" x="663.14" y="682"/><use href="#astar" x="684.98" y="656.81"/><use href="#astar" x="706.82" y="584.84"/><use href="#astar" x="728.66" y="481.84"/><use href="#astar" x="750.49" y="389.18"/><use href="#astar" x="772.33" y="307.32"/><use href="#astar" x="794.17" y="256.94"/><use href="#astar" x="816.01" y="239.85"/><use href="#astar" x="837.84" y="249.29"/><use href="#astar" x="859.68" y="292.47"/><use href="#astar" x="881.52" y="367.59"/><use href="#astar" x="903.36" y="466.55"/><use href="#astar" x="925.19" y="571.8"/><use href="#astar" x="947.03" y="660.86"/><use href="#astar" x="968.87" y="682"/><use href="#astar" x="990.71" y="682"/><use href="#astar" x="1012.54" y="682"/><use href="#astar" x="1034.38" y="682"/><use href="#astar" x="1056.22" y="682"/><use href="#astar" x="1078.06" y="682"/><use href="#astar" x="1099.9" y="682"/><use href="#astar" x="1121.73" y="682"/><use href="#astar" x="1143.57" y="682"/><use href="#astar" x="1165.41" y="682"/><use href="#astar" x="1187.25" y="682"/><use href="#astar" x="1209.08" y="656.81"/><use href="#astar" x="1230.92" y="583.49"/><use href="#astar" x="1252.76" y="480.49"/><use href="#astar" x="1274.6" y="387.83"/><use href="#astar" x="1296.43" y="307.32"/><use href="#astar" x="1318.27" y="256.94"/><use href="#astar" x="1340.11" y="238.95"/><use href="#astar" x="1361.95" y="250.64"/><use href="#astar" x="1383.79" y="294.72"/><use href="#astar" x="1405.62" y="367.59"/><use href="#astar" x="1427.46" y="462.5"/><use href="#astar" x="1449.3" y="571.8"/><use href="#astar" x="1471.14" y="660.86"/><use href="#astar" x="1492.97" y="682"/><use href="#astar" x="1514.81" y="682"/><use href="#astar" x="1536.65" y="682"/><use href="#astar" x="1558.49" y="682"/><use href="#astar" x="1580.32" y="682"/><use href="#astar" x="1602.16" y="682"/><use href="#astar" x="1624" y="682"/>
</g>
<rect x="135.4" y="27.2" width="1186.1" height="70.6" fill="#fff" stroke="#262626" stroke-width="1.6"/>
<g font-family='"Liberation Sans", Arial, Helvetica, sans-serif' font-size="24">
<g stroke="#000000" fill="#000000"><path d="M143.3 46.6h80.3" stroke-width="1.45" fill="none"/><use href="#ao" x="183.45" y="46.6"/></g>
<text x="229.3" y="56.3" fill="#000" stroke="#000" stroke-width="0.3">Real Data</text>
<g stroke="#FF0000" fill="#FF0000"><path d="M143.3 78.7h80.3" stroke-width="1.45" fill="none"/><use href="#aplus" x="183.45" y="78.7"/></g>
<text x="229.3" y="88.4" fill="#000" stroke="#000" stroke-width="0.3">ANN</text>
<g stroke="#0000FF" fill="#0000FF"><path d="M353.6 46.6h80.3" stroke-width="1.45" fill="none"/><use href="#aast" x="393.75" y="46.6"/></g>
<text x="439.6" y="56.3" fill="#000" stroke="#000" stroke-width="0.3">CNN</text>
<g stroke="#00FF00" fill="#00FF00"><path d="M353.6 78.7h80.3" stroke-width="1.45" fill="none"/><use href="#adot" x="393.75" y="78.7"/></g>
<text x="439.6" y="88.4" fill="#000" stroke="#000" stroke-width="0.3">CNN-ANN</text>
<g stroke="#F4A460" fill="#F4A460"><path d="M568 46.6h80.3" stroke-width="1.45" fill="none"/><use href="#asq" x="608.15" y="46.6"/></g>
<text x="654" y="56.3" fill="#000" stroke="#000" stroke-width="0.3">CNN-LSTM-ANN</text>
<g stroke="#92D050" fill="#92D050"><path d="M568 78.7h80.3" stroke-width="1.45" fill="none"/><use href="#adia" x="608.15" y="78.7"/></g>
<text x="654" y="88.4" fill="#000" stroke="#000" stroke-width="0.3">DTR</text>
<g stroke="#FFFF00" fill="#FFFF00"><path d="M854.4 46.6h80.3" stroke-width="1.45" fill="none"/><use href="#aup" x="894.55" y="46.6"/></g>
<text x="940.4" y="56.3" fill="#000" stroke="#000" stroke-width="0.3">LSTM</text>
<g stroke="#8B6914" fill="#8B6914"><path d="M854.4 78.7h80.3" stroke-width="1.45" fill="none"/><use href="#adown" x="894.55" y="78.7"/></g>
<text x="940.4" y="88.4" fill="#000" stroke="#000" stroke-width="0.3">MLR</text>
<g stroke="#0B6589" fill="#0B6589"><path d="M1022.7 46.6h80.3" stroke-width="1.45" fill="none"/><use href="#aright" x="1062.85" y="46.6"/></g>
<text x="1108.7" y="56.3" fill="#000" stroke="#000" stroke-width="0.3">PLR</text>
<g stroke="#FFD700" fill="#FFD700"><path d="M1022.7 78.7h80.3" stroke-width="1.45" fill="none"/><use href="#aleft" x="1062.85" y="78.7"/></g>
<text x="1108.7" y="88.4" fill="#000" stroke="#000" stroke-width="0.3">RFR</text>
<g stroke="#9932CC" fill="#9932CC"><path d="M1175 46.6h80.3" stroke-width="1.45" fill="none"/><use href="#astar" x="1215.15" y="46.6"/></g>
<text x="1261" y="56.3" fill="#000" stroke="#000" stroke-width="0.3">XGB</text>
</g>
<text x="430.5" y="804" stroke="#000" stroke-width="0.25" font-family='"Liberation Serif", "Times New Roman", Times, serif' font-size="32.2" fill="#000" textLength="845" lengthAdjust="spacingAndGlyphs">d. Egypt GSR hourly prediction performance plot for three days</text>
<g stroke="#141414" stroke-width="1.6" fill="none">
<rect x="111.2" y="894.9" width="1538.8" height="654.4"/>
<path d="M311.91 1549.3v-16M311.91 894.9v16M534.93 1549.3v-16M534.93 894.9v16M757.94 1549.3v-16M757.94 894.9v16M980.96 1549.3v-16M980.96 894.9v16M1203.97 1549.3v-16M1203.97 894.9v16M1426.99 1549.3v-16M1426.99 894.9v16M1650 1549.3v-16M1650 894.9v16M111.2 1549.3h16M1650 1549.3h-16M111.2 1467.5h16M1650 1467.5h-16M111.2 1385.7h16M1650 1385.7h-16M111.2 1303.9h16M1650 1303.9h-16M111.2 1222.1h16M1650 1222.1h-16M111.2 1140.3h16M1650 1140.3h-16M111.2 1058.5h16M1650 1058.5h-16M111.2 976.7h16M1650 976.7h-16M111.2 894.9h16M1650 894.9h-16"/>
</g>
<g font-family='"Liberation Sans", Arial, Helvetica, sans-serif' font-size="26" fill="#000" stroke="#000" stroke-width="0.35">
<g text-anchor="middle">
<text x="311.91" y="1586">5010</text>
<text x="534.93" y="1586">5020</text>
<text x="757.94" y="1586">5030</text>
<text x="980.96" y="1586">5040</text>
<text x="1203.97" y="1586">5050</text>
<text x="1426.99" y="1586">5060</text>
<text x="1650" y="1586">5070</text>
</g>
<g text-anchor="end">
<text x="99.2" y="1559.7">0</text>
<text x="99.2" y="1477.9">100</text>
<text x="99.2" y="1396.1">200</text>
<text x="99.2" y="1314.3">300</text>
<text x="99.2" y="1232.5">400</text>
<text x="99.2" y="1150.7">500</text>
<text x="99.2" y="1068.9">600</text>
<text x="99.2" y="987.1">700</text>
<text x="99.2" y="905.3">800</text>
</g>
</g>
<text x="880" y="1621.8" text-anchor="middle" font-family='"Liberation Sans", Arial, Helvetica, sans-serif' font-size="28.5" fill="#000" stroke="#000" stroke-width="0.35">Time [Hours]</text>
<text transform="translate(40.1 1409.8) rotate(-90)" text-anchor="start" font-family='"Liberation Sans", Arial, Helvetica, sans-serif' font-size="28" fill="#000" stroke="#000" stroke-width="0.35">Global Solar Radiation [W/m<tspan font-size="22.4" dy="-13.5">2</tspan><tspan dy="13.5" dx="-1">]</tspan></text>
<clipPath id="bclip"><rect x="110.2" y="893.9" width="1540.8" height="656.4"/></clipPath>
<g stroke="#000000" fill="#000000">
<polyline clip-path="url(#bclip)" fill="none" stroke-width="1.45" stroke-linejoin="round" points="111.2,1548.89 133.5,1548.89 155.8,1548.89 178.1,1548.89 200.41,1456.87 222.71,1296.54 245.01,1152.57 267.31,1047.05 289.61,996.33 311.91,993.06 334.21,1047.05 356.52,1144.39 378.82,1283.45 401.12,1443.78 423.42,1546.85 445.72,1548.89 468.02,1548.89 490.32,1548.89 512.63,1548.89 534.93,1548.89 557.23,1548.89 579.53,1548.89 601.83,1548.89 624.13,1548.89 646.43,1548.89 668.74,1548.89 691.04,1548.89 713.34,1548.89 735.64,1459.32 757.94,1296.54 780.24,1155.84 802.54,1051.96 824.85,1002.06 847.15,998.79 869.45,1050.32 891.75,1150.12 914.05,1289.99 936.35,1447.05 958.66,1546.85 980.96,1548.89 1003.26,1548.89 1025.56,1548.89 1047.86,1548.89 1070.16,1548.89 1092.46,1548.89 1114.77,1548.89 1137.07,1548.89 1159.37,1548.89 1181.67,1548.89 1203.97,1548.89 1226.27,1548.89 1248.57,1548.89 1270.88,1460.14 1293.18,1299.81 1315.48,1161.57 1337.78,1056.05 1360.08,1004.1 1382.38,1002.06 1404.68,1052.77 1426.99,1150.93 1449.29,1289.99 1471.59,1447.87 1493.89,1546.85 1516.19,1548.89 1538.49,1548.89 1560.79,1548.89 1583.1,1548.89 1605.4,1548.89 1627.7,1548.89 1650,1548.89"/>
<use href="#bo" x="111.2" y="1548.89"/><use href="#bo" x="133.5" y="1548.89"/><use href="#bo" x="155.8" y="1548.89"/><use href="#bo" x="178.1" y="1548.89"/><use href="#bo" x="200.41" y="1456.87"/><use href="#bo" x="222.71" y="1296.54"/><use href="#bo" x="245.01" y="1152.57"/><use href="#bo" x="267.31" y="1047.05"/><use href="#bo" x="289.61" y="996.33"/><use href="#bo" x="311.91" y="993.06"/><use href="#bo" x="334.21" y="1047.05"/><use href="#bo" x="356.52" y="1144.39"/><use href="#bo" x="378.82" y="1283.45"/><use href="#bo" x="401.12" y="1443.78"/><use href="#bo" x="423.42" y="1546.85"/><use href="#bo" x="445.72" y="1548.89"/><use href="#bo" x="468.02" y="1548.89"/><use href="#bo" x="490.32" y="1548.89"/><use href="#bo" x="512.63" y="1548.89"/><use href="#bo" x="534.93" y="1548.89"/><use href="#bo" x="557.23" y="1548.89"/><use href="#bo" x="579.53" y="1548.89"/><use href="#bo" x="601.83" y="1548.89"/><use href="#bo" x="624.13" y="1548.89"/><use href="#bo" x="646.43" y="1548.89"/><use href="#bo" x="668.74" y="1548.89"/><use href="#bo" x="691.04" y="1548.89"/><use href="#bo" x="713.34" y="1548.89"/><use href="#bo" x="735.64" y="1459.32"/><use href="#bo" x="757.94" y="1296.54"/><use href="#bo" x="780.24" y="1155.84"/><use href="#bo" x="802.54" y="1051.96"/><use href="#bo" x="824.85" y="1002.06"/><use href="#bo" x="847.15" y="998.79"/><use href="#bo" x="869.45" y="1050.32"/><use href="#bo" x="891.75" y="1150.12"/><use href="#bo" x="914.05" y="1289.99"/><use href="#bo" x="936.35" y="1447.05"/><use href="#bo" x="958.66" y="1546.85"/><use href="#bo" x="980.96" y="1548.89"/><use href="#bo" x="1003.26" y="1548.89"/><use href="#bo" x="1025.56" y="1548.89"/><use href="#bo" x="1047.86" y="1548.89"/><use href="#bo" x="1070.16" y="1548.89"/><use href="#bo" x="1092.46" y="1548.89"/><use href="#bo" x="1114.77" y="1548.89"/><use href="#bo" x="1137.07" y="1548.89"/><use href="#bo" x="1159.37" y="1548.89"/><use href="#bo" x="1181.67" y="1548.89"/><use href="#bo" x="1203.97" y="1548.89"/><use href="#bo" x="1226.27" y="1548.89"/><use href="#bo" x="1248.57" y="1548.89"/><use href="#bo" x="1270.88" y="1460.14"/><use href="#bo" x="1293.18" y="1299.81"/><use href="#bo" x="1315.48" y="1161.57"/><use href="#bo" x="1337.78" y="1056.05"/><use href="#bo" x="1360.08" y="1004.1"/><use href="#bo" x="1382.38" y="1002.06"/><use href="#bo" x="1404.68" y="1052.77"/><use href="#bo" x="1426.99" y="1150.93"/><use href="#bo" x="1449.29" y="1289.99"/><use href="#bo" x="1471.59" y="1447.87"/><use href="#bo" x="1493.89" y="1546.85"/><use href="#bo" x="1516.19" y="1548.89"/><use href="#bo" x="1538.49" y="1548.89"/><use href="#bo" x="1560.79" y="1548.89"/><use href="#bo" x="1583.1" y="1548.89"/><use href="#bo" x="1605.4" y="1548.89"/><use href="#bo" x="1627.7" y="1548.89"/><use href="#bo" x="1650" y="1548.89"/>
</g>
<g stroke="#FF0000" fill="#FF0000">
<polyline clip-path="url(#bclip)" fill="none" stroke-width="1.45" stroke-linejoin="round" points="111.2,1548.89 133.5,1548.89 155.8,1548.89 178.1,1548.89 200.41,1460.96 222.71,1322.71 245.01,1197.56 267.31,1097.76 289.61,1044.59 311.91,1042.14 334.21,1096.13 356.52,1192.65 378.82,1316.17 401.12,1457.68 423.42,1548.89 445.72,1548.89 468.02,1548.89 490.32,1548.89 512.63,1548.89 534.93,1548.89 557.23,1548.89 579.53,1548.89 601.83,1548.89 624.13,1548.89 646.43,1548.89 668.74,1548.89 691.04,1548.89 713.34,1548.89 735.64,1463.41 757.94,1326.8 780.24,1199.2 802.54,1101.04 824.85,1051.14 847.15,1051.14 869.45,1099.4 891.75,1199.2 914.05,1320.26 936.35,1460.96 958.66,1548.89 980.96,1548.89 1003.26,1548.89 1025.56,1548.89 1047.86,1548.89 1070.16,1548.89 1092.46,1548.89 1114.77,1548.89 1137.07,1548.89 1159.37,1548.89 1181.67,1548.89 1203.97,1548.89 1226.27,1548.89 1248.57,1548.89 1270.88,1467.5 1293.18,1330.89 1315.48,1205.74 1337.78,1107.58 1360.08,1055.23 1382.38,1055.23 1404.68,1103.49 1426.99,1200.83 1449.29,1325.99 1471.59,1463.41 1493.89,1548.89 1516.19,1548.89 1538.49,1548.89 1560.79,1548.89 1583.1,1548.89 1605.4,1548.89 1627.7,1548.89 1650,1548.89"/>
<use href="#bplus" x="111.2" y="1548.89"/><use href="#bplus" x="133.5" y="1548.89"/><use href="#bplus" x="155.8" y="1548.89"/><use href="#bplus" x="178.1" y="1548.89"/><use href="#bplus" x="200.41" y="1460.96"/><use href="#bplus" x="222.71" y="1322.71"/><use href="#bplus" x="245.01" y="1197.56"/><use href="#bplus" x="267.31" y="1097.76"/><use href="#bplus" x="289.61" y="1044.59"/><use href="#bplus" x="311.91" y="1042.14"/><use href="#bplus" x="334.21" y="1096.13"/><use href="#bplus" x="356.52" y="1192.65"/><use href="#bplus" x="378.82" y="1316.17"/><use href="#bplus" x="401.12" y="1457.68"/><use href="#bplus" x="423.42" y="1548.89"/><use href="#bplus" x="445.72" y="1548.89"/><use href="#bplus" x="468.02" y="1548.89"/><use href="#bplus" x="490.32" y="1548.89"/><use href="#bplus" x="512.63" y="1548.89"/><use href="#bplus" x="534.93" y="1548.89"/><use href="#bplus" x="557.23" y="1548.89"/><use href="#bplus" x="579.53" y="1548.89"/><use href="#bplus" x="601.83" y="1548.89"/><use href="#bplus" x="624.13" y="1548.89"/><use href="#bplus" x="646.43" y="1548.89"/><use href="#bplus" x="668.74" y="1548.89"/><use href="#bplus" x="691.04" y="1548.89"/><use href="#bplus" x="713.34" y="1548.89"/><use href="#bplus" x="735.64" y="1463.41"/><use href="#bplus" x="757.94" y="1326.8"/><use href="#bplus" x="780.24" y="1199.2"/><use href="#bplus" x="802.54" y="1101.04"/><use href="#bplus" x="824.85" y="1051.14"/><use href="#bplus" x="847.15" y="1051.14"/><use href="#bplus" x="869.45" y="1099.4"/><use href="#bplus" x="891.75" y="1199.2"/><use href="#bplus" x="914.05" y="1320.26"/><use href="#bplus" x="936.35" y="1460.96"/><use href="#bplus" x="958.66" y="1548.89"/><use href="#bplus" x="980.96" y="1548.89"/><use href="#bplus" x="1003.26" y="1548.89"/><use href="#bplus" x="1025.56" y="1548.89"/><use href="#bplus" x="1047.86" y="1548.89"/><use href="#bplus" x="1070.16" y="1548.89"/><use href="#bplus" x="1092.46" y="1548.89"/><use href="#bplus" x="1114.77" y="1548.89"/><use href="#bplus" x="1137.07" y="1548.89"/><use href="#bplus" x="1159.37" y="1548.89"/><use href="#bplus" x="1181.67" y="1548.89"/><use href="#bplus" x="1203.97" y="1548.89"/><use href="#bplus" x="1226.27" y="1548.89"/><use href="#bplus" x="1248.57" y="1548.89"/><use href="#bplus" x="1270.88" y="1467.5"/><use href="#bplus" x="1293.18" y="1330.89"/><use href="#bplus" x="1315.48" y="1205.74"/><use href="#bplus" x="1337.78" y="1107.58"/><use href="#bplus" x="1360.08" y="1055.23"/><use href="#bplus" x="1382.38" y="1055.23"/><use href="#bplus" x="1404.68" y="1103.49"/><use href="#bplus" x="1426.99" y="1200.83"/><use href="#bplus" x="1449.29" y="1325.99"/><use href="#bplus" x="1471.59" y="1463.41"/><use href="#bplus" x="1493.89" y="1548.89"/><use href="#bplus" x="1516.19" y="1548.89"/><use href="#bplus" x="1538.49" y="1548.89"/><use href="#bplus" x="1560.79" y="1548.89"/><use href="#bplus" x="1583.1" y="1548.89"/><use href="#bplus" x="1605.4" y="1548.89"/><use href="#bplus" x="1627.7" y="1548.89"/><use href="#bplus" x="1650" y="1548.89"/>
</g>
<g stroke="#0000FF" fill="#0000FF">
<polyline clip-path="url(#bclip)" fill="none" stroke-width="1.45" stroke-linejoin="round" points="111.2,1543.57 133.5,1543.57 155.8,1543.57 178.1,1543.57 200.41,1460.96 222.71,1316.17 245.01,1185.29 267.31,1085.49 289.61,1037.23 311.91,1035.6 334.21,1081.4 356.52,1177.11 378.82,1306.35 401.12,1455.23 423.42,1548.89 445.72,1548.89 468.02,1548.89 490.32,1548.89 512.63,1548.89 534.93,1548.89 557.23,1548.89 579.53,1548.89 601.83,1543.57 624.13,1543.57 646.43,1543.57 668.74,1543.57 691.04,1543.57 713.34,1543.57 735.64,1463.41 757.94,1317.81 780.24,1189.38 802.54,1091.22 824.85,1041.32 847.15,1040.5 869.45,1087.13 891.75,1179.56 914.05,1312.08 936.35,1457.68 958.66,1548.89 980.96,1548.89 1003.26,1548.89 1025.56,1548.89 1047.86,1548.89 1070.16,1548.89 1092.46,1548.89 1114.77,1548.89 1137.07,1541.12 1159.37,1543.57 1181.67,1543.57 1203.97,1543.57 1226.27,1543.57 1248.57,1543.57 1270.88,1465.05 1293.18,1320.26 1315.48,1189.38 1337.78,1091.22 1360.08,1042.96 1382.38,1042.96 1404.68,1091.22 1426.99,1181.2 1449.29,1316.17 1471.59,1459.32 1493.89,1548.89 1516.19,1548.89 1538.49,1548.89 1560.79,1548.89 1583.1,1548.89 1605.4,1548.89 1627.7,1548.89 1650,1548.89"/>
<use href="#bast" x="111.2" y="1543.57"/><use href="#bast" x="133.5" y="1543.57"/><use href="#bast" x="155.8" y="1543.57"/><use href="#bast" x="178.1" y="1543.57"/><use href="#bast" x="200.41" y="1460.96"/><use href="#bast" x="222.71" y="1316.17"/><use href="#bast" x="245.01" y="1185.29"/><use href="#bast" x="267.31" y="1085.49"/><use href="#bast" x="289.61" y="1037.23"/><use href="#bast" x="311.91" y="1035.6"/><use href="#bast" x="334.21" y="1081.4"/><use href="#bast" x="356.52" y="1177.11"/><use href="#bast" x="378.82" y="1306.35"/><use href="#bast" x="401.12" y="1455.23"/><use href="#bast" x="423.42" y="1548.89"/><use href="#bast" x="445.72" y="1548.89"/><use href="#bast" x="468.02" y="1548.89"/><use href="#bast" x="490.32" y="1548.89"/><use href="#bast" x="512.63" y="1548.89"/><use href="#bast" x="534.93" y="1548.89"/><use href="#bast" x="557.23" y="1548.89"/><use href="#bast" x="579.53" y="1548.89"/><use href="#bast" x="601.83" y="1543.57"/><use href="#bast" x="624.13" y="1543.57"/><use href="#bast" x="646.43" y="1543.57"/><use href="#bast" x="668.74" y="1543.57"/><use href="#bast" x="691.04" y="1543.57"/><use href="#bast" x="713.34" y="1543.57"/><use href="#bast" x="735.64" y="1463.41"/><use href="#bast" x="757.94" y="1317.81"/><use href="#bast" x="780.24" y="1189.38"/><use href="#bast" x="802.54" y="1091.22"/><use href="#bast" x="824.85" y="1041.32"/><use href="#bast" x="847.15" y="1040.5"/><use href="#bast" x="869.45" y="1087.13"/><use href="#bast" x="891.75" y="1179.56"/><use href="#bast" x="914.05" y="1312.08"/><use href="#bast" x="936.35" y="1457.68"/><use href="#bast" x="958.66" y="1548.89"/><use href="#bast" x="980.96" y="1548.89"/><use href="#bast" x="1003.26" y="1548.89"/><use href="#bast" x="1025.56" y="1548.89"/><use href="#bast" x="1047.86" y="1548.89"/><use href="#bast" x="1070.16" y="1548.89"/><use href="#bast" x="1092.46" y="1548.89"/><use href="#bast" x="1114.77" y="1548.89"/><use href="#bast" x="1137.07" y="1541.12"/><use href="#bast" x="1159.37" y="1543.57"/><use href="#bast" x="1181.67" y="1543.57"/><use href="#bast" x="1203.97" y="1543.57"/><use href="#bast" x="1226.27" y="1543.57"/><use href="#bast" x="1248.57" y="1543.57"/><use href="#bast" x="1270.88" y="1465.05"/><use href="#bast" x="1293.18" y="1320.26"/><use href="#bast" x="1315.48" y="1189.38"/><use href="#bast" x="1337.78" y="1091.22"/><use href="#bast" x="1360.08" y="1042.96"/><use href="#bast" x="1382.38" y="1042.96"/><use href="#bast" x="1404.68" y="1091.22"/><use href="#bast" x="1426.99" y="1181.2"/><use href="#bast" x="1449.29" y="1316.17"/><use href="#bast" x="1471.59" y="1459.32"/><use href="#bast" x="1493.89" y="1548.89"/><use href="#bast" x="1516.19" y="1548.89"/><use href="#bast" x="1538.49" y="1548.89"/><use href="#bast" x="1560.79" y="1548.89"/><use href="#bast" x="1583.1" y="1548.89"/><use href="#bast" x="1605.4" y="1548.89"/><use href="#bast" x="1627.7" y="1548.89"/><use href="#bast" x="1650" y="1548.89"/>
</g>
<g stroke="#00FF00" fill="#00FF00">
<polyline clip-path="url(#bclip)" fill="none" stroke-width="1.45" stroke-linejoin="round" points="111.2,1548.89 133.5,1548.89 155.8,1548.89 178.1,1548.89 200.41,1461.77 222.71,1315.35 245.01,1184.47 267.31,1086.31 289.61,1038.05 311.91,1037.23 334.21,1083.04 356.52,1178.75 378.82,1307.17 401.12,1456.05 423.42,1548.89 445.72,1548.89 468.02,1548.89 490.32,1548.89 512.63,1548.89 534.93,1548.89 557.23,1548.89 579.53,1548.89 601.83,1548.89 624.13,1548.89 646.43,1548.89 668.74,1548.89 691.04,1548.89 713.34,1548.89 735.64,1464.23 757.94,1318.62 780.24,1188.56 802.54,1092.86 824.85,1042.14 847.15,1042.14 869.45,1088.77 891.75,1181.2 914.05,1312.9 936.35,1458.5 958.66,1548.89 980.96,1548.89 1003.26,1548.89 1025.56,1548.89 1047.86,1548.89 1070.16,1548.89 1092.46,1548.89 1114.77,1548.89 1137.07,1548.89 1159.37,1548.89 1181.67,1548.89 1203.97,1548.89 1226.27,1548.89 1248.57,1548.89 1270.88,1465.86 1293.18,1321.08 1315.48,1191.02 1337.78,1092.86 1360.08,1043.78 1382.38,1043.78 1404.68,1092.86 1426.99,1182.84 1449.29,1316.99 1471.59,1460.14 1493.89,1548.89 1516.19,1548.89 1538.49,1548.89 1560.79,1548.89 1583.1,1548.89 1605.4,1548.89 1627.7,1548.89 1650,1548.89"/>
<use href="#bdot" x="111.2" y="1548.89"/><use href="#bdot" x="133.5" y="1548.89"/><use href="#bdot" x="155.8" y="1548.89"/><use href="#bdot" x="178.1" y="1548.89"/><use href="#bdot" x="200.41" y="1461.77"/><use href="#bdot" x="222.71" y="1315.35"/><use href="#bdot" x="245.01" y="1184.47"/><use href="#bdot" x="267.31" y="1086.31"/><use href="#bdot" x="289.61" y="1038.05"/><use href="#bdot" x="311.91" y="1037.23"/><use href="#bdot" x="334.21" y="1083.04"/><use href="#bdot" x="356.52" y="1178.75"/><use href="#bdot" x="378.82" y="1307.17"/><use href="#bdot" x="401.12" y="1456.05"/><use href="#bdot" x="423.42" y="1548.89"/><use href="#bdot" x="445.72" y="1548.89"/><use href="#bdot" x="468.02" y="1548.89"/><use href="#bdot" x="490.32" y="1548.89"/><use href="#bdot" x="512.63" y="1548.89"/><use href="#bdot" x="534.93" y="1548.89"/><use href="#bdot" x="557.23" y="1548.89"/><use href="#bdot" x="579.53" y="1548.89"/><use href="#bdot" x="601.83" y="1548.89"/><use href="#bdot" x="624.13" y="1548.89"/><use href="#bdot" x="646.43" y="1548.89"/><use href="#bdot" x="668.74" y="1548.89"/><use href="#bdot" x="691.04" y="1548.89"/><use href="#bdot" x="713.34" y="1548.89"/><use href="#bdot" x="735.64" y="1464.23"/><use href="#bdot" x="757.94" y="1318.62"/><use href="#bdot" x="780.24" y="1188.56"/><use href="#bdot" x="802.54" y="1092.86"/><use href="#bdot" x="824.85" y="1042.14"/><use href="#bdot" x="847.15" y="1042.14"/><use href="#bdot" x="869.45" y="1088.77"/><use href="#bdot" x="891.75" y="1181.2"/><use href="#bdot" x="914.05" y="1312.9"/><use href="#bdot" x="936.35" y="1458.5"/><use href="#bdot" x="958.66" y="1548.89"/><use href="#bdot" x="980.96" y="1548.89"/><use href="#bdot" x="1003.26" y="1548.89"/><use href="#bdot" x="1025.56" y="1548.89"/><use href="#bdot" x="1047.86" y="1548.89"/><use href="#bdot" x="1070.16" y="1548.89"/><use href="#bdot" x="1092.46" y="1548.89"/><use href="#bdot" x="1114.77" y="1548.89"/><use href="#bdot" x="1137.07" y="1548.89"/><use href="#bdot" x="1159.37" y="1548.89"/><use href="#bdot" x="1181.67" y="1548.89"/><use href="#bdot" x="1203.97" y="1548.89"/><use href="#bdot" x="1226.27" y="1548.89"/><use href="#bdot" x="1248.57" y="1548.89"/><use href="#bdot" x="1270.88" y="1465.86"/><use href="#bdot" x="1293.18" y="1321.08"/><use href="#bdot" x="1315.48" y="1191.02"/><use href="#bdot" x="1337.78" y="1092.86"/><use href="#bdot" x="1360.08" y="1043.78"/><use href="#bdot" x="1382.38" y="1043.78"/><use href="#bdot" x="1404.68" y="1092.86"/><use href="#bdot" x="1426.99" y="1182.84"/><use href="#bdot" x="1449.29" y="1316.99"/><use href="#bdot" x="1471.59" y="1460.14"/><use href="#bdot" x="1493.89" y="1548.89"/><use href="#bdot" x="1516.19" y="1548.89"/><use href="#bdot" x="1538.49" y="1548.89"/><use href="#bdot" x="1560.79" y="1548.89"/><use href="#bdot" x="1583.1" y="1548.89"/><use href="#bdot" x="1605.4" y="1548.89"/><use href="#bdot" x="1627.7" y="1548.89"/><use href="#bdot" x="1650" y="1548.89"/>
</g>
<g stroke="#F4A460" fill="#F4A460">
<polyline clip-path="url(#bclip)" fill="none" stroke-width="1.45" stroke-linejoin="round" points="111.2,1555.3 133.5,1555.3 155.8,1555.3 178.1,1555.3 200.41,1463.41 222.71,1307.99 245.01,1166.48 267.31,1066.68 289.61,1006.97 311.91,1007.78 334.21,1070.77 356.52,1182.02 378.82,1303.9 401.12,1452.78 423.42,1555.3 445.72,1555.3 468.02,1555.3 490.32,1555.3 512.63,1555.3 534.93,1555.3 557.23,1555.3 579.53,1555.3 601.83,1555.3 624.13,1555.3 646.43,1555.3 668.74,1555.3 691.04,1555.3 713.34,1555.3 735.64,1463.41 757.94,1312.08 780.24,1177.11 802.54,1074.86 824.85,1033.96 847.15,1033.96 869.45,1083.04 891.75,1185.29 914.05,1307.99 936.35,1451.14 958.66,1555.3 980.96,1555.3 1003.26,1555.3 1025.56,1555.3 1047.86,1555.3 1070.16,1555.3 1092.46,1555.3 1114.77,1555.3 1137.07,1555.3 1159.37,1555.3 1181.67,1555.3 1203.97,1542.76 1226.27,1542.76 1248.57,1555.3 1270.88,1463.41 1293.18,1307.99 1315.48,1189.38 1337.78,1087.13 1360.08,1041.32 1382.38,1048.68 1404.68,1119.85 1426.99,1189.38 1449.29,1312.08 1471.59,1449.5 1493.89,1555.3 1516.19,1555.3 1538.49,1555.3 1560.79,1555.3 1583.1,1555.3 1605.4,1555.3 1627.7,1555.3 1650,1555.3"/>
<use href="#bsq" x="200.41" y="1463.41"/><use href="#bsq" x="222.71" y="1307.99"/><use href="#bsq" x="245.01" y="1166.48"/><use href="#bsq" x="267.31" y="1066.68"/><use href="#bsq" x="289.61" y="1006.97"/><use href="#bsq" x="311.91" y="1007.78"/><use href="#bsq" x="334.21" y="1070.77"/><use href="#bsq" x="356.52" y="1182.02"/><use href="#bsq" x="378.82" y="1303.9"/><use href="#bsq" x="401.12" y="1452.78"/><use href="#bsq" x="735.64" y="1463.41"/><use href="#bsq" x="757.94" y="1312.08"/><use href="#bsq" x="780.24" y="1177.11"/><use href="#bsq" x="802.54" y="1074.86"/><use href="#bsq" x="824.85" y="1033.96"/><use href="#bsq" x="847.15" y="1033.96"/><use href="#bsq" x="869.45" y="1083.04"/><use href="#bsq" x="891.75" y="1185.29"/><use href="#bsq" x="914.05" y="1307.99"/><use href="#bsq" x="936.35" y="1451.14"/><use href="#bsq" x="1203.97" y="1542.76"/><use href="#bsq" x="1226.27" y="1542.76"/><use href="#bsq" x="1270.88" y="1463.41"/><use href="#bsq" x="1293.18" y="1307.99"/><use href="#bsq" x="1315.48" y="1189.38"/><use href="#bsq" x="1337.78" y="1087.13"/><use href="#bsq" x="1360.08" y="1041.32"/><use href="#bsq" x="1382.38" y="1048.68"/><use href="#bsq" x="1404.68" y="1119.85"/><use href="#bsq" x="1426.99" y="1189.38"/><use href="#bsq" x="1449.29" y="1312.08"/><use href="#bsq" x="1471.59" y="1449.5"/>
</g>
<g stroke="#92D050" fill="#92D050">
<polyline clip-path="url(#bclip)" fill="none" stroke-width="1.45" stroke-linejoin="round" points="111.2,1548.89 133.5,1548.89 155.8,1548.89 178.1,1548.89 200.41,1459.32 222.71,1299.81 245.01,1161.57 267.31,1065.86 289.61,1003.69 311.91,971.79 334.21,1194.29 356.52,1157.48 378.82,1295.72 401.12,1473.23 423.42,1548.89 445.72,1548.89 468.02,1548.89 490.32,1548.89 512.63,1548.89 534.93,1548.89 557.23,1548.89 579.53,1548.89 601.83,1548.89 624.13,1548.89 646.43,1548.89 668.74,1548.89 691.04,1548.89 713.34,1548.89 735.64,1463.41 757.94,1303.9 780.24,1164.84 802.54,1063.41 824.85,986.52 847.15,1001.24 869.45,1479.77 891.75,1148.48 914.05,1294.08 936.35,1475.68 958.66,1548.89 980.96,1548.89 1003.26,1548.89 1025.56,1548.89 1047.86,1548.89 1070.16,1548.89 1092.46,1548.89 1114.77,1548.89 1137.07,1548.89 1159.37,1548.89 1181.67,1548.89 1203.97,1548.89 1226.27,1548.89 1248.57,1548.89 1270.88,1493.68 1293.18,1513.31 1315.48,1179.56 1337.78,1075.68 1360.08,996.33 1382.38,1002.88 1404.68,1054.41 1426.99,1148.48 1449.29,1295.72 1471.59,1451.14 1493.89,1548.89 1516.19,1548.89 1538.49,1548.89 1560.79,1548.89 1583.1,1548.89 1605.4,1548.89 1627.7,1548.89 1650,1548.89"/>
<use href="#bdia" x="111.2" y="1548.89"/><use href="#bdia" x="133.5" y="1548.89"/><use href="#bdia" x="155.8" y="1548.89"/><use href="#bdia" x="178.1" y="1548.89"/><use href="#bdia" x="200.41" y="1459.32"/><use href="#bdia" x="222.71" y="1299.81"/><use href="#bdia" x="245.01" y="1161.57"/><use href="#bdia" x="267.31" y="1065.86"/><use href="#bdia" x="289.61" y="1003.69"/><use href="#bdia" x="311.91" y="971.79"/><use href="#bdia" x="334.21" y="1194.29"/><use href="#bdia" x="356.52" y="1157.48"/><use href="#bdia" x="378.82" y="1295.72"/><use href="#bdia" x="401.12" y="1473.23"/><use href="#bdia" x="423.42" y="1548.89"/><use href="#bdia" x="445.72" y="1548.89"/><use href="#bdia" x="468.02" y="1548.89"/><use href="#bdia" x="490.32" y="1548.89"/><use href="#bdia" x="512.63" y="1548.89"/><use href="#bdia" x="534.93" y="1548.89"/><use href="#bdia" x="557.23" y="1548.89"/><use href="#bdia" x="579.53" y="1548.89"/><use href="#bdia" x="601.83" y="1548.89"/><use href="#bdia" x="624.13" y="1548.89"/><use href="#bdia" x="646.43" y="1548.89"/><use href="#bdia" x="668.74" y="1548.89"/><use href="#bdia" x="691.04" y="1548.89"/><use href="#bdia" x="713.34" y="1548.89"/><use href="#bdia" x="735.64" y="1463.41"/><use href="#bdia" x="757.94" y="1303.9"/><use href="#bdia" x="780.24" y="1164.84"/><use href="#bdia" x="802.54" y="1063.41"/><use href="#bdia" x="824.85" y="986.52"/><use href="#bdia" x="847.15" y="1001.24"/><use href="#bdia" x="869.45" y="1479.77"/><use href="#bdia" x="891.75" y="1148.48"/><use href="#bdia" x="914.05" y="1294.08"/><use href="#bdia" x="936.35" y="1475.68"/><use href="#bdia" x="958.66" y="1548.89"/><use href="#bdia" x="980.96" y="1548.89"/><use href="#bdia" x="1003.26" y="1548.89"/><use href="#bdia" x="1025.56" y="1548.89"/><use href="#bdia" x="1047.86" y="1548.89"/><use href="#bdia" x="1070.16" y="1548.89"/><use href="#bdia" x="1092.46" y="1548.89"/><use href="#bdia" x="1114.77" y="1548.89"/><use href="#bdia" x="1137.07" y="1548.89"/><use href="#bdia" x="1159.37" y="1548.89"/><use href="#bdia" x="1181.67" y="1548.89"/><use href="#bdia" x="1203.97" y="1548.89"/><use href="#bdia" x="1226.27" y="1548.89"/><use href="#bdia" x="1248.57" y="1548.89"/><use href="#bdia" x="1270.88" y="1493.68"/><use href="#bdia" x="1293.18" y="1513.31"/><use href="#bdia" x="1315.48" y="1179.56"/><use href="#bdia" x="1337.78" y="1075.68"/><use href="#bdia" x="1360.08" y="996.33"/><use href="#bdia" x="1382.38" y="1002.88"/><use href="#bdia" x="1404.68" y="1054.41"/><use href="#bdia" x="1426.99" y="1148.48"/><use href="#bdia" x="1449.29" y="1295.72"/><use href="#bdia" x="1471.59" y="1451.14"/><use href="#bdia" x="1493.89" y="1548.89"/><use href="#bdia" x="1516.19" y="1548.89"/><use href="#bdia" x="1538.49" y="1548.89"/><use href="#bdia" x="1560.79" y="1548.89"/><use href="#bdia" x="1583.1" y="1548.89"/><use href="#bdia" x="1605.4" y="1548.89"/><use href="#bdia" x="1627.7" y="1548.89"/><use href="#bdia" x="1650" y="1548.89"/>
</g>
<g stroke="#FFFF00" fill="#FFFF00">
<polyline clip-path="url(#bclip)" fill="none" stroke-width="1.45" stroke-linejoin="round" points="111.2,1555.3 133.5,1555.3 155.8,1555.3 178.1,1555.3 200.41,1451.14 222.71,1299.81 245.01,1178.75 267.31,1065.86 289.61,1012.69 311.91,1014.33 334.21,1059.32 356.52,1155.84 378.82,1290.81 401.12,1423.33 423.42,1536.21 445.72,1540.3 468.02,1542.76 490.32,1546.85 512.63,1555.3 534.93,1555.3 557.23,1555.3 579.53,1555.3 601.83,1555.3 624.13,1555.3 646.43,1555.3 668.74,1555.3 691.04,1555.3 713.34,1555.3 735.64,1452.78 757.94,1302.26 780.24,1179.56 802.54,1076.5 824.85,1024.96 847.15,1023.33 869.45,1074.86 891.75,1179.56 914.05,1296.54 936.35,1433.14 958.66,1539.48 980.96,1541.94 1003.26,1542.76 1025.56,1546.03 1047.86,1555.3 1070.16,1555.3 1092.46,1555.3 1114.77,1555.3 1137.07,1555.3 1159.37,1555.3 1181.67,1555.3 1203.97,1555.3 1226.27,1555.3 1248.57,1555.3 1270.88,1452.78 1293.18,1300.63 1315.48,1175.47 1337.78,1076.5 1360.08,1024.96 1382.38,1025.78 1404.68,1076.5 1426.99,1186.11 1449.29,1302.26 1471.59,1439.69 1493.89,1536.21 1516.19,1537.85 1538.49,1541.12 1560.79,1542.76 1583.1,1546.03 1605.4,1555.3 1627.7,1555.3 1650,1555.3"/>
<use href="#bup" x="200.41" y="1451.14"/><use href="#bup" x="222.71" y="1299.81"/><use href="#bup" x="245.01" y="1178.75"/><use href="#bup" x="267.31" y="1065.86"/><use href="#bup" x="289.61" y="1012.69"/><use href="#bup" x="311.91" y="1014.33"/><use href="#bup" x="334.21" y="1059.32"/><use href="#bup" x="356.52" y="1155.84"/><use href="#bup" x="378.82" y="1290.81"/><use href="#bup" x="401.12" y="1423.33"/><use href="#bup" x="423.42" y="1536.21"/><use href="#bup" x="445.72" y="1540.3"/><use href="#bup" x="468.02" y="1542.76"/><use href="#bup" x="490.32" y="1546.85"/><use href="#bup" x="735.64" y="1452.78"/><use href="#bup" x="757.94" y="1302.26"/><use href="#bup" x="780.24" y="1179.56"/><use href="#bup" x="802.54" y="1076.5"/><use href="#bup" x="824.85" y="1024.96"/><use href="#bup" x="847.15" y="1023.33"/><use href="#bup" x="869.45" y="1074.86"/><use href="#bup" x="891.75" y="1179.56"/><use href="#bup" x="914.05" y="1296.54"/><use href="#bup" x="936.35" y="1433.14"/><use href="#bup" x="958.66" y="1539.48"/><use href="#bup" x="980.96" y="1541.94"/><use href="#bup" x="1003.26" y="1542.76"/><use href="#bup" x="1025.56" y="1546.03"/><use href="#bup" x="1270.88" y="1452.78"/><use href="#bup" x="1293.18" y="1300.63"/><use href="#bup" x="1315.48" y="1175.47"/><use href="#bup" x="1337.78" y="1076.5"/><use href="#bup" x="1360.08" y="1024.96"/><use href="#bup" x="1382.38" y="1025.78"/><use href="#bup" x="1404.68" y="1076.5"/><use href="#bup" x="1426.99" y="1186.11"/><use href="#bup" x="1449.29" y="1302.26"/><use href="#bup" x="1471.59" y="1439.69"/><use href="#bup" x="1493.89" y="1536.21"/><use href="#bup" x="1516.19" y="1537.85"/><use href="#bup" x="1538.49" y="1541.12"/><use href="#bup" x="1560.79" y="1542.76"/><use href="#bup" x="1583.1" y="1546.03"/>
</g>
<g stroke="#8B6914" fill="#8B6914">
<polyline clip-path="url(#bclip)" fill="none" stroke-width="1.45" stroke-linejoin="round" points="111.2,1555.3 133.5,1555.3 155.8,1555.3 178.1,1555.3 200.41,1443.78 222.71,1310.44 245.01,1199.2 267.31,1109.22 289.61,1058.5 311.91,1057.68 334.21,1105.94 356.52,1191.83 378.82,1303.9 401.12,1435.6 423.42,1548.07 445.72,1548.07 468.02,1548.07 490.32,1548.07 512.63,1548.07 534.93,1548.07 557.23,1548.07 579.53,1548.07 601.83,1555.3 624.13,1555.3 646.43,1555.3 668.74,1555.3 691.04,1555.3 713.34,1555.3 735.64,1447.05 757.94,1312.9 780.24,1202.47 802.54,1114.94 824.85,1063.41 847.15,1062.59 869.45,1110.85 891.75,1196.74 914.05,1305.54 936.35,1439.69 958.66,1548.07 980.96,1548.07 1003.26,1548.07 1025.56,1548.07 1047.86,1548.07 1070.16,1548.07 1092.46,1548.07 1114.77,1548.07 1137.07,1555.3 1159.37,1555.3 1181.67,1555.3 1203.97,1555.3 1226.27,1555.3 1248.57,1555.3 1270.88,1449.5 1293.18,1316.99 1315.48,1204.1 1337.78,1118.21 1360.08,1068.32 1382.38,1067.5 1404.68,1113.31 1426.99,1197.56 1449.29,1310.44 1471.59,1440.51 1493.89,1548.07 1516.19,1548.07 1538.49,1548.07 1560.79,1548.07 1583.1,1548.07 1605.4,1548.07 1627.7,1548.07 1650,1548.07"/>
<use href="#bdown" x="200.41" y="1443.78"/><use href="#bdown" x="222.71" y="1310.44"/><use href="#bdown" x="245.01" y="1199.2"/><use href="#bdown" x="267.31" y="1109.22"/><use href="#bdown" x="289.61" y="1058.5"/><use href="#bdown" x="311.91" y="1057.68"/><use href="#bdown" x="334.21" y="1105.94"/><use href="#bdown" x="356.52" y="1191.83"/><use href="#bdown" x="378.82" y="1303.9"/><use href="#bdown" x="401.12" y="1435.6"/><use href="#bdown" x="423.42" y="1548.07"/><use href="#bdown" x="445.72" y="1548.07"/><use href="#bdown" x="468.02" y="1548.07"/><use href="#bdown" x="490.32" y="1548.07"/><use href="#bdown" x="512.63" y="1548.07"/><use href="#bdown" x="534.93" y="1548.07"/><use href="#bdown" x="557.23" y="1548.07"/><use href="#bdown" x="579.53" y="1548.07"/><use href="#bdown" x="735.64" y="1447.05"/><use href="#bdown" x="757.94" y="1312.9"/><use href="#bdown" x="780.24" y="1202.47"/><use href="#bdown" x="802.54" y="1114.94"/><use href="#bdown" x="824.85" y="1063.41"/><use href="#bdown" x="847.15" y="1062.59"/><use href="#bdown" x="869.45" y="1110.85"/><use href="#bdown" x="891.75" y="1196.74"/><use href="#bdown" x="914.05" y="1305.54"/><use href="#bdown" x="936.35" y="1439.69"/><use href="#bdown" x="958.66" y="1548.07"/><use href="#bdown" x="980.96" y="1548.07"/><use href="#bdown" x="1003.26" y="1548.07"/><use href="#bdown" x="1025.56" y="1548.07"/><use href="#bdown" x="1047.86" y="1548.07"/><use href="#bdown" x="1070.16" y="1548.07"/><use href="#bdown" x="1092.46" y="1548.07"/><use href="#bdown" x="1114.77" y="1548.07"/><use href="#bdown" x="1270.88" y="1449.5"/><use href="#bdown" x="1293.18" y="1316.99"/><use href="#bdown" x="1315.48" y="1204.1"/><use href="#bdown" x="1337.78" y="1118.21"/><use href="#bdown" x="1360.08" y="1068.32"/><use href="#bdown" x="1382.38" y="1067.5"/><use href="#bdown" x="1404.68" y="1113.31"/><use href="#bdown" x="1426.99" y="1197.56"/><use href="#bdown" x="1449.29" y="1310.44"/><use href="#bdown" x="1471.59" y="1440.51"/><use href="#bdown" x="1493.89" y="1548.07"/><use href="#bdown" x="1516.19" y="1548.07"/><use href="#bdown" x="1538.49" y="1548.07"/><use href="#bdown" x="1560.79" y="1548.07"/><use href="#bdown" x="1583.1" y="1548.07"/><use href="#bdown" x="1605.4" y="1548.07"/><use href="#bdown" x="1627.7" y="1548.07"/><use href="#bdown" x="1650" y="1548.07"/>
</g>
<g stroke="#0B6589" fill="#0B6589">
<polyline clip-path="url(#bclip)" fill="none" stroke-width="1.45" stroke-linejoin="round" points="111.2,1539.48 133.5,1539.48 155.8,1539.48 178.1,1539.48 200.41,1453.59 222.71,1316.99 245.01,1186.93 267.31,1089.58 289.61,1032.32 311.91,1025.78 334.21,1076.5 356.52,1173.02 378.82,1309.63 401.12,1457.68 423.42,1555.3 445.72,1555.3 468.02,1555.3 490.32,1555.3 512.63,1555.3 534.93,1555.3 557.23,1555.3 579.53,1555.3 601.83,1540.3 624.13,1539.48 646.43,1539.48 668.74,1539.48 691.04,1539.48 713.34,1539.48 735.64,1459.32 757.94,1326.8 780.24,1199.2 802.54,1102.67 824.85,1048.68 847.15,1047.87 869.45,1097.76 891.75,1190.2 914.05,1320.26 936.35,1464.23 958.66,1555.3 980.96,1555.3 1003.26,1555.3 1025.56,1555.3 1047.86,1555.3 1070.16,1555.3 1092.46,1555.3 1114.77,1555.3 1137.07,1542.76 1159.37,1541.94 1181.67,1540.3 1203.97,1539.48 1226.27,1539.48 1248.57,1539.48 1270.88,1465.05 1293.18,1338.26 1315.48,1211.47 1337.78,1114.94 1360.08,1060.95 1382.38,1057.68 1404.68,1113.31 1426.99,1203.29 1449.29,1330.89 1471.59,1474.04 1493.89,1555.3 1516.19,1555.3 1538.49,1555.3 1560.79,1555.3 1583.1,1555.3 1605.4,1555.3 1627.7,1555.3 1650,1555.3"/>
<use href="#bright" x="111.2" y="1539.48"/><use href="#bright" x="133.5" y="1539.48"/><use href="#bright" x="155.8" y="1539.48"/><use href="#bright" x="178.1" y="1539.48"/><use href="#bright" x="200.41" y="1453.59"/><use href="#bright" x="222.71" y="1316.99"/><use href="#bright" x="245.01" y="1186.93"/><use href="#bright" x="267.31" y="1089.58"/><use href="#bright" x="289.61" y="1032.32"/><use href="#bright" x="311.91" y="1025.78"/><use href="#bright" x="334.21" y="1076.5"/><use href="#bright" x="356.52" y="1173.02"/><use href="#bright" x="378.82" y="1309.63"/><use href="#bright" x="401.12" y="1457.68"/><use href="#bright" x="601.83" y="1540.3"/><use href="#bright" x="624.13" y="1539.48"/><use href="#bright" x="646.43" y="1539.48"/><use href="#bright" x="668.74" y="1539.48"/><use href="#bright" x="691.04" y="1539.48"/><use href="#bright" x="713.34" y="1539.48"/><use href="#bright" x="735.64" y="1459.32"/><use href="#bright" x="757.94" y="1326.8"/><use href="#bright" x="780.24" y="1199.2"/><use href="#bright" x="802.54" y="1102.67"/><use href="#bright" x="824.85" y="1048.68"/><use href="#bright" x="847.15" y="1047.87"/><use href="#bright" x="869.45" y="1097.76"/><use href="#bright" x="891.75" y="1190.2"/><use href="#bright" x="914.05" y="1320.26"/><use href="#bright" x="936.35" y="1464.23"/><use href="#bright" x="1137.07" y="1542.76"/><use href="#bright" x="1159.37" y="1541.94"/><use href="#bright" x="1181.67" y="1540.3"/><use href="#bright" x="1203.97" y="1539.48"/><use href="#bright" x="1226.27" y="1539.48"/><use href="#bright" x="1248.57" y="1539.48"/><use href="#bright" x="1270.88" y="1465.05"/><use href="#bright" x="1293.18" y="1338.26"/><use href="#bright" x="1315.48" y="1211.47"/><use href="#bright" x="1337.78" y="1114.94"/><use href="#bright" x="1360.08" y="1060.95"/><use href="#bright" x="1382.38" y="1057.68"/><use href="#bright" x="1404.68" y="1113.31"/><use href="#bright" x="1426.99" y="1203.29"/><use href="#bright" x="1449.29" y="1330.89"/><use href="#bright" x="1471.59" y="1474.04"/>
</g>
<g stroke="#FFD700" fill="#FFD700">
<polyline clip-path="url(#bclip)" fill="none" stroke-width="1.45" stroke-linejoin="round" points="111.2,1548.89 133.5,1548.89 155.8,1548.89 178.1,1548.89 200.41,1459.32 222.71,1302.26 245.01,1190.2 267.31,1057.68 289.61,1014.33 311.91,1010.24 334.21,1052.77 356.52,1159.11 378.82,1308.81 401.12,1463.41 423.42,1548.89 445.72,1548.89 468.02,1548.89 490.32,1548.89 512.63,1548.89 534.93,1548.89 557.23,1548.89 579.53,1548.89 601.83,1548.89 624.13,1548.89 646.43,1548.89 668.74,1548.89 691.04,1548.89 713.34,1548.89 735.64,1461.77 757.94,1313.72 780.24,1168.93 802.54,1061.77 824.85,1011.87 847.15,1006.97 869.45,1076.5 891.75,1168.11 914.05,1326.8 936.35,1460.14 958.66,1548.89 980.96,1548.89 1003.26,1548.89 1025.56,1548.89 1047.86,1548.89 1070.16,1548.89 1092.46,1548.89 1114.77,1548.89 1137.07,1548.89 1159.37,1548.89 1181.67,1548.89 1203.97,1548.89 1226.27,1548.89 1248.57,1548.89 1270.88,1470.77 1293.18,1326.8 1315.48,1182.02 1337.78,1102.67 1360.08,1007.78 1382.38,1020.05 1404.68,1076.5 1426.99,1158.3 1449.29,1337.44 1471.59,1473.23 1493.89,1548.89 1516.19,1548.89 1538.49,1548.89 1560.79,1548.89 1583.1,1548.89 1605.4,1548.89 1627.7,1548.89 1650,1548.89"/>
<use href="#bleft" x="111.2" y="1548.89"/><use href="#bleft" x="133.5" y="1548.89"/><use href="#bleft" x="155.8" y="1548.89"/><use href="#bleft" x="178.1" y="1548.89"/><use href="#bleft" x="200.41" y="1459.32"/><use href="#bleft" x="222.71" y="1302.26"/><use href="#bleft" x="245.01" y="1190.2"/><use href="#bleft" x="267.31" y="1057.68"/><use href="#bleft" x="289.61" y="1014.33"/><use href="#bleft" x="311.91" y="1010.24"/><use href="#bleft" x="334.21" y="1052.77"/><use href="#bleft" x="356.52" y="1159.11"/><use href="#bleft" x="378.82" y="1308.81"/><use href="#bleft" x="401.12" y="1463.41"/><use href="#bleft" x="423.42" y="1548.89"/><use href="#bleft" x="445.72" y="1548.89"/><use href="#bleft" x="468.02" y="1548.89"/><use href="#bleft" x="490.32" y="1548.89"/><use href="#bleft" x="512.63" y="1548.89"/><use href="#bleft" x="534.93" y="1548.89"/><use href="#bleft" x="557.23" y="1548.89"/><use href="#bleft" x="579.53" y="1548.89"/><use href="#bleft" x="601.83" y="1548.89"/><use href="#bleft" x="624.13" y="1548.89"/><use href="#bleft" x="646.43" y="1548.89"/><use href="#bleft" x="668.74" y="1548.89"/><use href="#bleft" x="691.04" y="1548.89"/><use href="#bleft" x="713.34" y="1548.89"/><use href="#bleft" x="735.64" y="1461.77"/><use href="#bleft" x="757.94" y="1313.72"/><use href="#bleft" x="780.24" y="1168.93"/><use href="#bleft" x="802.54" y="1061.77"/><use href="#bleft" x="824.85" y="1011.87"/><use href="#bleft" x="847.15" y="1006.97"/><use href="#bleft" x="869.45" y="1076.5"/><use href="#bleft" x="891.75" y="1168.11"/><use href="#bleft" x="914.05" y="1326.8"/><use href="#bleft" x="936.35" y="1460.14"/><use href="#bleft" x="958.66" y="1548.89"/><use href="#bleft" x="980.96" y="1548.89"/><use href="#bleft" x="1003.26" y="1548.89"/><use href="#bleft" x="1025.56" y="1548.89"/><use href="#bleft" x="1047.86" y="1548.89"/><use href="#bleft" x="1070.16" y="1548.89"/><use href="#bleft" x="1092.46" y="1548.89"/><use href="#bleft" x="1114.77" y="1548.89"/><use href="#bleft" x="1137.07" y="1548.89"/><use href="#bleft" x="1159.37" y="1548.89"/><use href="#bleft" x="1181.67" y="1548.89"/><use href="#bleft" x="1203.97" y="1548.89"/><use href="#bleft" x="1226.27" y="1548.89"/><use href="#bleft" x="1248.57" y="1548.89"/><use href="#bleft" x="1270.88" y="1470.77"/><use href="#bleft" x="1293.18" y="1326.8"/><use href="#bleft" x="1315.48" y="1182.02"/><use href="#bleft" x="1337.78" y="1102.67"/><use href="#bleft" x="1360.08" y="1007.78"/><use href="#bleft" x="1382.38" y="1020.05"/><use href="#bleft" x="1404.68" y="1076.5"/><use href="#bleft" x="1426.99" y="1158.3"/><use href="#bleft" x="1449.29" y="1337.44"/><use href="#bleft" x="1471.59" y="1473.23"/><use href="#bleft" x="1493.89" y="1548.89"/><use href="#bleft" x="1516.19" y="1548.89"/><use href="#bleft" x="1538.49" y="1548.89"/><use href="#bleft" x="1560.79" y="1548.89"/><use href="#bleft" x="1583.1" y="1548.89"/><use href="#bleft" x="1605.4" y="1548.89"/><use href="#bleft" x="1627.7" y="1548.89"/><use href="#bleft" x="1650" y="1548.89"/>
</g>
<g stroke="#9932CC" fill="#9932CC">
<polyline clip-path="url(#bclip)" fill="none" stroke-width="1.45" stroke-linejoin="round" points="111.2,1548.89 133.5,1548.89 155.8,1548.89 178.1,1548.89 200.41,1473.23 222.71,1316.99 245.01,1186.11 267.31,1078.95 289.61,1030.69 311.91,1021.69 334.21,1076.5 356.52,1168.93 378.82,1301.45 401.12,1454.41 423.42,1548.89 445.72,1548.89 468.02,1548.89 490.32,1548.89 512.63,1548.89 534.93,1548.89 557.23,1548.89 579.53,1548.89 601.83,1548.89 624.13,1548.89 646.43,1548.89 668.74,1548.89 691.04,1548.89 713.34,1548.89 735.64,1474.04 757.94,1316.17 780.24,1191.83 802.54,1088.77 824.85,1035.6 847.15,1035.6 869.45,1083.86 891.75,1171.38 914.05,1309.63 936.35,1459.32 958.66,1548.89 980.96,1548.89 1003.26,1548.89 1025.56,1548.89 1047.86,1548.89 1070.16,1548.89 1092.46,1548.89 1114.77,1548.89 1137.07,1548.89 1159.37,1548.89 1181.67,1548.89 1203.97,1548.89 1226.27,1548.89 1248.57,1548.89 1270.88,1474.04 1293.18,1326.8 1315.48,1190.2 1337.78,1089.58 1360.08,1051.14 1382.38,1052.77 1404.68,1092.04 1426.99,1182.02 1449.29,1316.17 1471.59,1460.96 1493.89,1548.89 1516.19,1548.89 1538.49,1548.89 1560.79,1548.89 1583.1,1548.89 1605.4,1548.89 1627.7,1548.89 1650,1548.89"/>
<use href="#bstar" x="111.2" y="1548.89"/><use href="#bstar" x="133.5" y="1548.89"/><use href="#bstar" x="155.8" y="1548.89"/><use href="#bstar" x="178.1" y="1548.89"/><use href="#bstar" x="200.41" y="1473.23"/><use href="#bstar" x="222.71" y="1316.99"/><use href="#bstar" x="245.01" y="1186.11"/><use href="#bstar" x="267.31" y="1078.95"/><use href="#bstar" x="289.61" y="1030.69"/><use href="#bstar" x="311.91" y="1021.69"/><use href="#bstar" x="334.21" y="1076.5"/><use href="#bstar" x="356.52" y="1168.93"/><use href="#bstar" x="378.82" y="1301.45"/><use href="#bstar" x="401.12" y="1454.41"/><use href="#bstar" x="423.42" y="1548.89"/><use href="#bstar" x="445.72" y="1548.89"/><use href="#bstar" x="468.02" y="1548.89"/><use href="#bstar" x="490.32" y="1548.89"/><use href="#bstar" x="512.63" y="1548.89"/><use href="#bstar" x="534.93" y="1548.89"/><use href="#bstar" x="557.23" y="1548.89"/><use href="#bstar" x="579.53" y="1548.89"/><use href="#bstar" x="601.83" y="1548.89"/><use href="#bstar" x="624.13" y="1548.89"/><use href="#bstar" x="646.43" y="1548.89"/><use href="#bstar" x="668.74" y="1548.89"/><use href="#bstar" x="691.04" y="1548.89"/><use href="#bstar" x="713.34" y="1548.89"/><use href="#bstar" x="735.64" y="1474.04"/><use href="#bstar" x="757.94" y="1316.17"/><use href="#bstar" x="780.24" y="1191.83"/><use href="#bstar" x="802.54" y="1088.77"/><use href="#bstar" x="824.85" y="1035.6"/><use href="#bstar" x="847.15" y="1035.6"/><use href="#bstar" x="869.45" y="1083.86"/><use href="#bstar" x="891.75" y="1171.38"/><use href="#bstar" x="914.05" y="1309.63"/><use href="#bstar" x="936.35" y="1459.32"/><use href="#bstar" x="958.66" y="1548.89"/><use href="#bstar" x="980.96" y="1548.89"/><use href="#bstar" x="1003.26" y="1548.89"/><use href="#bstar" x="1025.56" y="1548.89"/><use href="#bstar" x="1047.86" y="1548.89"/><use href="#bstar" x="1070.16" y="1548.89"/><use href="#bstar" x="1092.46" y="1548.89"/><use href="#bstar" x="1114.77" y="1548.89"/><use href="#bstar" x="1137.07" y="1548.89"/><use href="#bstar" x="1159.37" y="1548.89"/><use href="#bstar" x="1181.67" y="1548.89"/><use href="#bstar" x="1203.97" y="1548.89"/><use href="#bstar" x="1226.27" y="1548.89"/><use href="#bstar" x="1248.57" y="1548.89"/><use href="#bstar" x="1270.88" y="1474.04"/><use href="#bstar" x="1293.18" y="1326.8"/><use href="#bstar" x="1315.48" y="1190.2"/><use href="#bstar" x="1337.78" y="1089.58"/><use href="#bstar" x="1360.08" y="1051.14"/><use href="#bstar" x="1382.38" y="1052.77"/><use href="#bstar" x="1404.68" y="1092.04"/><use href="#bstar" x="1426.99" y="1182.02"/><use href="#bstar" x="1449.29" y="1316.17"/><use href="#bstar" x="1471.59" y="1460.96"/><use href="#bstar" x="1493.89" y="1548.89"/><use href="#bstar" x="1516.19" y="1548.89"/><use href="#bstar" x="1538.49" y="1548.89"/><use href="#bstar" x="1560.79" y="1548.89"/><use href="#bstar" x="1583.1" y="1548.89"/><use href="#bstar" x="1605.4" y="1548.89"/><use href="#bstar" x="1627.7" y="1548.89"/><use href="#bstar" x="1650" y="1548.89"/>
</g>
<rect x="483.6" y="902.5" width="1155" height="68.5" fill="#fff" stroke="#262626" stroke-width="1.6"/>
<g font-family='"Liberation Sans", Arial, Helvetica, sans-serif' font-size="23.35">
<g stroke="#000000" fill="#000000"><path d="M491.29 921.5h78.2" stroke-width="1.45" fill="none"/><use href="#bo" x="530.39" y="921.5"/></g>
<text x="575.29" y="931.2" fill="#000" stroke="#000" stroke-width="0.3">Real Data</text>
<g stroke="#FF0000" fill="#FF0000"><path d="M491.29 952.4h78.2" stroke-width="1.45" fill="none"/><use href="#bplus" x="530.39" y="952.4"/></g>
<text x="575.29" y="962.1" fill="#000" stroke="#000" stroke-width="0.3">ANN</text>
<g stroke="#0000FF" fill="#0000FF"><path d="M695.91 921.5h78.2" stroke-width="1.45" fill="none"/><use href="#bast" x="735.01" y="921.5"/></g>
<text x="779.91" y="931.2" fill="#000" stroke="#000" stroke-width="0.3">CNN</text>
<g stroke="#00FF00" fill="#00FF00"><path d="M695.91 952.4h78.2" stroke-width="1.45" fill="none"/><use href="#bdot" x="735.01" y="952.4"/></g>
<text x="779.91" y="962.1" fill="#000" stroke="#000" stroke-width="0.3">CNN-ANN</text>
<g stroke="#F4A460" fill="#F4A460"><path d="M904.91 921.5h78.2" stroke-width="1.45" fill="none"/><use href="#bsq" x="944.01" y="921.5"/></g>
<text x="988.91" y="931.2" fill="#000" stroke="#000" stroke-width="0.3">CNN-LSTM-ANN</text>
<g stroke="#92D050" fill="#92D050"><path d="M904.91 952.4h78.2" stroke-width="1.45" fill="none"/><use href="#bdia" x="944.01" y="952.4"/></g>
<text x="988.91" y="962.1" fill="#000" stroke="#000" stroke-width="0.3">DTR</text>
<g stroke="#FFFF00" fill="#FFFF00"><path d="M1183.48 921.5h78.2" stroke-width="1.45" fill="none"/><use href="#bup" x="1222.58" y="921.5"/></g>
<text x="1267.48" y="931.2" fill="#000" stroke="#000" stroke-width="0.3">LSTM</text>
<g stroke="#8B6914" fill="#8B6914"><path d="M1183.48 952.4h78.2" stroke-width="1.45" fill="none"/><use href="#bdown" x="1222.58" y="952.4"/></g>
<text x="1267.48" y="962.1" fill="#000" stroke="#000" stroke-width="0.3">MLR</text>
<g stroke="#0B6589" fill="#0B6589"><path d="M1347.94 921.5h78.2" stroke-width="1.45" fill="none"/><use href="#bright" x="1387.04" y="921.5"/></g>
<text x="1431.94" y="931.2" fill="#000" stroke="#000" stroke-width="0.3">PLR</text>
<g stroke="#FFD700" fill="#FFD700"><path d="M1347.94 952.4h78.2" stroke-width="1.45" fill="none"/><use href="#bleft" x="1387.04" y="952.4"/></g>
<text x="1431.94" y="962.1" fill="#000" stroke="#000" stroke-width="0.3">RFR</text>
<g stroke="#9932CC" fill="#9932CC"><path d="M1495.93 921.5h78.2" stroke-width="1.45" fill="none"/><use href="#bstar" x="1535.03" y="921.5"/></g>
<text x="1579.93" y="931.2" fill="#000" stroke="#000" stroke-width="0.3">XGB</text>
</g>
<text x="481.5" y="1668" stroke="#000" stroke-width="0.25" font-family='"Liberation Serif", "Times New Roman", Times, serif' font-size="32.2" fill="#000" textLength="801" lengthAdjust="spacingAndGlyphs">e. SA GSR hourly prediction performance plot for three days</text>
</svg>
</body></html>
